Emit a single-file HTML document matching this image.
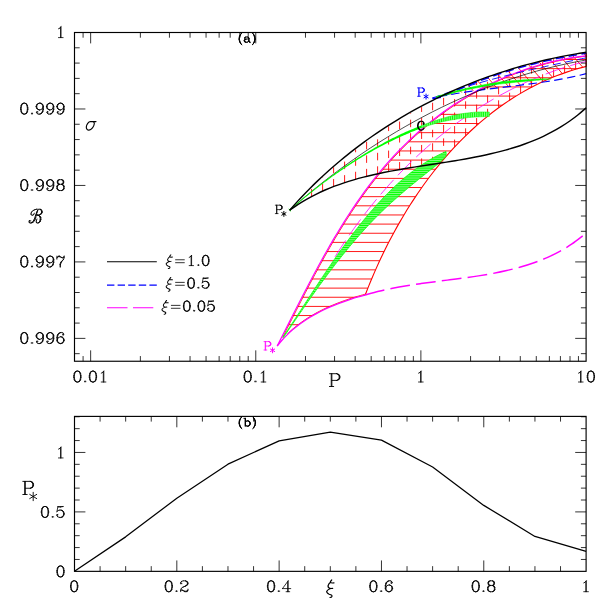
<!DOCTYPE html>
<html><head><meta charset="utf-8"><title>chart</title><style>html,body{margin:0;padding:0;background:#fff}svg{display:block}</style></head><body><svg width="599" height="599" viewBox="0 0 599 599">
<rect width="599" height="599" fill="#fff"/>
<path d="M288.49 324.7H298.96M293.11 315.56H312.89M297.75 306.41H331.39M302.42 297.26H357.17M307.15 288.12H367.89M311.94 278.98H371.63M316.83 269.83H375.57M321.81 260.69H379.72M326.92 251.54H384.09M332.17 242.39H388.68M337.59 233.25H393.51M343.19 224.1H398.59M349.02 214.96H403.94M355.09 205.81H409.58M361.44 196.67H415.52M368.11 187.53H421.8M375.15 178.38H428.45M382.62 169.23H435.5M390.57 160.09H443.01M399.09 150.94H451.02M408.27 141.8H459.62M418.19 132.66H468.89M428.95 123.51H478.96M440.72 114.37H490M453.7 105.22H502.25M468.2 96.07H516.09M484.71 86.93H532.15M504.09 77.78H551.66M528.19 68.64H577.81M562.86 59.5H586.2" stroke="#ff0000" stroke-width="0.9" fill="none"/>
<path d="M282.63 337.39C283.38 335.89 285.64 331.42 287.16 328.42C288.67 325.43 290.18 322.43 291.7 319.43C293.22 316.42 294.74 313.41 296.27 310.4C297.8 307.39 299.33 304.38 300.87 301.36C302.42 298.35 303.96 295.34 305.52 292.33C307.08 289.31 308.65 286.3 310.23 283.3C311.8 280.29 313.39 277.29 314.99 274.29C316.6 271.29 318.21 268.3 319.84 265.32C321.46 262.33 323.1 259.35 324.76 256.39C326.42 253.42 328.09 250.46 329.78 247.52C331.47 244.57 333.18 241.63 334.91 238.71C336.64 235.79 338.38 232.88 340.15 229.99C341.91 227.09 343.7 224.22 345.51 221.36C347.32 218.5 349.15 215.65 351.01 212.83C352.86 210 354.74 207.2 356.65 204.41C358.55 201.63 360.48 198.86 362.44 196.12C364.4 193.38 366.39 190.67 368.4 187.97C370.42 185.28 372.46 182.61 374.53 179.97C376.61 177.33 378.71 174.72 380.85 172.14C382.99 169.55 385.15 166.99 387.36 164.47C389.56 161.95 391.8 159.45 394.07 156.99C396.34 154.53 398.65 152.1 400.99 149.7C403.33 147.31 405.71 144.95 408.12 142.62C410.54 140.3 412.98 138.01 415.46 135.76C417.94 133.5 420.46 131.29 423 129.11C425.55 126.93 428.13 124.79 430.74 122.69C433.35 120.59 435.99 118.53 438.66 116.51C441.33 114.49 444.04 112.51 446.77 110.57C449.5 108.63 452.27 106.73 455.06 104.88C457.85 103.03 460.67 101.22 463.52 99.46C466.37 97.69 469.25 95.97 472.15 94.3C475.06 92.62 477.99 90.99 480.95 89.41C483.91 87.83 486.89 86.3 489.91 84.81C492.92 83.33 495.95 81.89 499.02 80.5C502.08 79.11 505.16 77.78 508.27 76.49C511.38 75.2 514.52 73.97 517.68 72.79C520.84 71.6 524.02 70.47 527.22 69.4C530.42 68.32 533.65 67.3 536.9 66.33C540.14 65.36 543.41 64.45 546.7 63.59C549.99 62.74 553.3 61.93 556.63 61.19C559.96 60.45 563.31 59.76 566.67 59.14C570.04 58.51 573.43 57.95 576.83 57.44C580.24 56.93 585.39 56.33 587.1 56.1" stroke="#ff0000" stroke-width="0.8" fill="none"/>
<path d="M287.42 333.94C288.32 333.11 290.99 330.55 292.85 328.95C294.71 327.34 296.62 325.8 298.57 324.32C300.52 322.84 302.51 321.41 304.54 320.04C306.57 318.67 308.64 317.36 310.74 316.09C312.84 314.83 314.98 313.62 317.15 312.46C319.31 311.29 321.51 310.18 323.73 309.11C325.95 308.04 328.2 307.02 330.46 306.04C332.73 305.05 335.02 304.12 337.32 303.22C339.63 302.32 341.95 301.46 344.28 300.63C346.62 299.81 348.96 299.02 351.32 298.26C353.67 297.51 356.03 296.79 358.4 296.09C360.76 295.4 364.32 294.43 365.5 294.1" stroke="#ff0000" stroke-width="0.8" fill="none"/>
<path d="M311.6 196.47V187.75M322.6 191.12V177.21M333.6 186.55V167.34M344.6 182.64V158.09M355.6 179.28V149.41M366.6 176.36V141.25M377.6 173.82V133.57M388.6 171.57V126.34M399.6 169.55V119.54M410.6 167.7V113.13M421.6 165.95V107.1M432.6 164.25V101.43M443.6 159.4V96.11M454.6 147.06V91.11M465.6 135.82V86.43M476.6 125.58V82.05M487.6 116.27V77.97M498.6 107.84V74.17M509.6 100.21V70.65M520.6 93.35V67.39M531.6 87.22V64.41M542.6 81.77V61.67M553.6 76.99V59.2M564.6 72.83V56.97M575.6 69.28V54.98" stroke="#ff0000" stroke-width="0.9" fill="none" stroke-dasharray="7.5 6"/>
<path d="M448.9 92.69L450.3 94.3M458.3 88.55L461.7 92.46M467.9 84.64L473.3 90.85M477.5 80.73L484.9 89.24M487.5 77.28L496.7 87.86M497.5 73.83L508.5 86.48M507.5 70.38L520.3 85.1M517.9 67.39L531.9 83.49M528.3 64.4L543.1 81.42M538.9 61.64L552.5 77.28M549.7 59.11L562.3 73.6M560.7 56.81L572.3 70.15M571.9 54.74L582.7 67.16M583.3 52.9L586.1 56.12" stroke="#ff0000" stroke-width="0.9" fill="none"/>
<path d="M365.2 295C365.8 293.48 367.56 288.91 368.79 285.87C370.02 282.82 371.28 279.78 372.58 276.74C373.87 273.7 375.19 270.67 376.55 267.64C377.91 264.61 379.29 261.58 380.71 258.57C382.13 255.55 383.59 252.54 385.07 249.55C386.55 246.55 388.07 243.56 389.62 240.58C391.17 237.61 392.75 234.64 394.36 231.69C395.97 228.74 397.61 225.8 399.29 222.88C400.97 219.96 402.67 217.06 404.41 214.17C406.15 211.28 407.93 208.41 409.73 205.57C411.54 202.72 413.37 199.89 415.24 197.08C417.11 194.28 419.02 191.49 420.95 188.74C422.88 185.98 424.85 183.24 426.85 180.53C428.85 177.83 430.88 175.14 432.94 172.49C435.01 169.84 437.11 167.21 439.23 164.62C441.36 162.02 443.52 159.46 445.72 156.93C447.91 154.4 450.14 151.9 452.4 149.44C454.66 146.97 456.95 144.54 459.28 142.15C461.6 139.76 463.96 137.4 466.35 135.09C468.74 132.77 471.16 130.5 473.62 128.26C476.08 126.02 478.56 123.83 481.09 121.68C483.61 119.52 486.16 117.41 488.75 115.35C491.34 113.29 493.96 111.27 496.61 109.3C499.27 107.33 501.95 105.4 504.67 103.53C507.39 101.65 510.15 99.82 512.93 98.05C515.72 96.28 518.54 94.55 521.39 92.88C524.24 91.22 527.13 89.6 530.05 88.04C532.97 86.48 535.92 84.97 538.91 83.53C541.89 82.08 544.91 80.69 547.96 79.36C551.02 78.03 554.1 76.76 557.22 75.55C560.34 74.34 563.49 73.2 566.68 72.11C569.87 71.03 573.09 70.01 576.34 69.06C579.59 68.11 584.56 66.84 586.2 66.4M586.2 66.4V53" stroke="#ff0000" stroke-width="1.1" fill="none"/>
<path d="M335 256.8C335.91 255.37 338.62 251.07 340.47 248.23C342.32 245.39 344.2 242.56 346.1 239.75C348.01 236.94 349.94 234.15 351.91 231.38C353.87 228.6 355.86 225.84 357.88 223.1C359.9 220.37 361.94 217.64 364.02 214.95C366.09 212.25 368.19 209.56 370.32 206.91C372.45 204.25 374.6 201.61 376.78 198.99C378.97 196.38 381.17 193.78 383.41 191.21C385.64 188.64 387.91 186.09 390.19 183.57C392.48 181.05 394.79 178.55 397.13 176.07C399.47 173.6 401.84 171.15 404.23 168.73C406.62 166.31 409.04 163.91 411.48 161.54C413.92 159.18 416.39 156.84 418.88 154.52C421.38 152.21 423.89 149.93 426.44 147.68C428.98 145.42 431.55 143.2 434.14 141.01C436.73 138.81 439.35 136.65 441.99 134.52C444.63 132.39 447.29 130.29 449.98 128.23C452.67 126.17 455.38 124.13 458.12 122.14C460.86 120.14 463.62 118.17 466.4 116.25C469.18 114.32 471.99 112.42 474.82 110.57C477.65 108.71 480.5 106.89 483.38 105.11C486.26 103.32 489.15 101.58 492.08 99.87C495 98.16 497.94 96.49 500.91 94.87C503.87 93.24 506.86 91.65 509.87 90.1C512.88 88.55 515.92 87.04 518.97 85.57C522.02 84.11 525.1 82.68 528.2 81.3C531.29 79.92 534.41 78.58 537.55 77.29C540.69 75.99 543.85 74.74 547.04 73.54C550.22 72.33 553.42 71.17 556.64 70.05C559.87 68.94 563.11 67.87 566.37 66.85C569.64 65.83 572.92 64.86 576.23 63.93C579.53 63.01 584.54 61.74 586.2 61.3" stroke="#ff00ff" stroke-width="0.8" fill="none" stroke-dasharray="19.5 6.3"/>
<path d="M277.2 346C277.96 344.52 280.22 340.07 281.73 337.09C283.24 334.11 284.74 331.12 286.26 328.12C287.77 325.13 289.28 322.13 290.8 319.13C292.32 316.12 293.84 313.11 295.37 310.1C296.9 307.09 298.43 304.08 299.97 301.06C301.52 298.05 303.06 295.04 304.62 292.03C306.18 289.01 307.75 286 309.33 283C310.9 279.99 312.49 276.99 314.09 273.99C315.7 270.99 317.31 268 318.94 265.02C320.56 262.03 322.2 259.05 323.86 256.09C325.52 253.12 327.19 250.16 328.88 247.22C330.57 244.27 332.28 241.33 334.01 238.41C335.74 235.49 337.48 232.58 339.25 229.69C341.01 226.79 342.8 223.92 344.61 221.06C346.42 218.2 348.25 215.35 350.11 212.53C351.96 209.7 353.84 206.9 355.75 204.11C357.65 201.33 359.58 198.56 361.54 195.82C363.5 193.08 365.49 190.37 367.5 187.67C369.52 184.98 371.56 182.31 373.63 179.67C375.71 177.03 377.81 174.42 379.95 171.84C382.09 169.25 384.25 166.69 386.46 164.17C388.66 161.65 390.9 159.15 393.17 156.69C395.44 154.23 397.75 151.8 400.09 149.4C402.43 147.01 404.81 144.65 407.22 142.32C409.64 140 412.08 137.71 414.56 135.46C417.04 133.2 419.56 130.99 422.1 128.81C424.65 126.63 427.23 124.49 429.84 122.39C432.45 120.29 435.09 118.23 437.76 116.21C440.43 114.19 443.14 112.21 445.87 110.27C448.6 108.33 451.37 106.43 454.16 104.58C456.95 102.73 459.77 100.92 462.62 99.16C465.47 97.39 468.35 95.67 471.25 94C474.16 92.32 477.09 90.69 480.05 89.11C483.01 87.53 485.99 86 489.01 84.51C492.02 83.03 495.05 81.59 498.12 80.2C501.18 78.81 504.26 77.48 507.37 76.19C510.48 74.9 513.62 73.67 516.78 72.49C519.94 71.3 523.12 70.17 526.32 69.1C529.52 68.02 532.75 67 536 66.03C539.24 65.06 542.51 64.15 545.8 63.29C549.09 62.44 552.4 61.63 555.73 60.89C559.06 60.15 562.41 59.46 565.77 58.84C569.14 58.21 572.53 57.65 575.93 57.14C579.34 56.63 584.49 56.03 586.2 55.8" stroke="#ff00ff" stroke-width="1.2" fill="none"/>
<path d="M277.2 346C278 345.04 280.34 342.08 281.99 340.22C283.65 338.36 285.36 336.57 287.12 334.84C288.88 333.11 290.69 331.45 292.55 329.85C294.41 328.24 296.32 326.7 298.27 325.22C300.22 323.74 302.21 322.31 304.24 320.94C306.27 319.57 308.34 318.26 310.44 316.99C312.54 315.73 314.68 314.52 316.85 313.36C319.01 312.19 321.21 311.08 323.43 310.01C325.65 308.94 327.9 307.92 330.16 306.94C332.43 305.95 334.72 305.02 337.02 304.12C339.33 303.22 341.65 302.36 343.98 301.53C346.32 300.71 348.66 299.92 351.02 299.16C353.37 298.41 355.73 297.69 358.1 296.99C360.46 296.3 364.02 295.33 365.2 295" stroke="#ff00ff" stroke-width="1.3" fill="none"/>
<path d="M365.2 295C367.46 294.38 374.19 292.42 378.76 291.3C383.33 290.17 387.95 289.18 392.61 288.26C397.26 287.33 401.97 286.51 406.69 285.73C411.41 284.95 416.18 284.26 420.95 283.58C425.72 282.9 430.52 282.28 435.32 281.66C440.11 281.03 444.93 280.45 449.74 279.83C454.54 279.21 459.36 278.61 464.15 277.95C468.94 277.29 473.74 276.62 478.5 275.87C483.26 275.13 488.01 274.34 492.71 273.46C497.42 272.58 502.11 271.64 506.74 270.57C511.38 269.5 515.98 268.36 520.52 267.06C525.07 265.76 529.57 264.36 534 262.78C538.43 261.21 542.81 259.5 547.1 257.6C551.4 255.7 555.63 253.65 559.78 251.37C563.92 249.1 567.99 246.65 571.96 243.95C575.93 241.26 581.66 236.66 583.6 235.2" stroke="#ff00ff" stroke-width="1.45" fill="none" stroke-dasharray="19.8 6.2"/>
<path d="M432.5 98C434.16 97.41 439.15 95.6 442.48 94.44C445.82 93.28 449.17 92.15 452.52 91.05C455.88 89.95 459.25 88.88 462.62 87.83C465.99 86.79 469.37 85.77 472.76 84.77C476.15 83.77 479.55 82.8 482.95 81.85C486.35 80.9 489.76 79.97 493.18 79.06C496.59 78.15 500.02 77.26 503.44 76.38C506.87 75.51 510.3 74.65 513.73 73.81C517.17 72.97 520.61 72.15 524.05 71.34C527.49 70.53 530.94 69.73 534.39 68.95C537.84 68.16 541.29 67.39 544.74 66.63C548.19 65.86 551.65 65.11 555.1 64.36C558.56 63.62 562.01 62.88 565.47 62.14C568.92 61.41 572.38 60.69 575.84 59.96C579.29 59.24 584.47 58.16 586.2 57.8" stroke="#0000ff" stroke-width="0.9" fill="none" stroke-dasharray="8 4.5"/>
<path d="M432.5 98C434.19 97.65 439.27 96.58 442.67 95.93C446.06 95.28 449.47 94.67 452.87 94.1C456.28 93.52 459.7 92.98 463.11 92.46C466.53 91.95 469.96 91.46 473.38 90.99C476.81 90.52 480.24 90.08 483.67 89.64C487.1 89.2 490.53 88.78 493.97 88.36C497.4 87.94 500.84 87.54 504.28 87.13C507.71 86.71 511.15 86.31 514.58 85.88C518.02 85.46 521.45 85.04 524.89 84.6C528.32 84.16 531.75 83.71 535.18 83.23C538.6 82.75 542.03 82.26 545.45 81.74C548.86 81.21 552.28 80.66 555.69 80.08C559.1 79.49 562.5 78.87 565.9 78.21C569.3 77.55 572.69 76.85 576.07 76.1C579.46 75.35 584.51 74.1 586.2 73.7" stroke="#0000ff" stroke-width="1.2" fill="none" stroke-dasharray="8.5 4.5" stroke-dashoffset="-6"/>
<path d="M432.5 98.4C434.05 98.16 438.73 97.9 441.8 96.96C444.88 96.01 447.88 94.11 450.95 92.74C454.01 91.36 457.08 90.02 460.17 88.7C463.26 87.39 466.37 86.1 469.48 84.85C472.6 83.6 475.73 82.38 478.87 81.18C482.01 79.99 485.17 78.83 488.33 77.71C491.5 76.58 494.68 75.48 497.87 74.41C501.05 73.35 504.26 72.31 507.47 71.31C510.68 70.3 513.9 69.33 517.13 68.39C520.36 67.45 523.6 66.54 526.85 65.66C530.1 64.79 533.36 63.94 536.63 63.13C539.89 62.31 543.17 61.53 546.45 60.78C549.74 60.03 553.03 59.31 556.33 58.62C559.63 57.93 562.94 57.28 566.25 56.65C569.56 56.03 572.88 55.44 576.21 54.88C579.53 54.32 584.53 53.56 586.2 53.3" stroke="#0000ff" stroke-width="1.5" fill="none" stroke-dasharray="8.5 4.5"/>
<path d="M289.6 210.2C290.87 209.08 294.66 205.72 297.22 203.51C299.77 201.29 302.35 199.09 304.94 196.91C307.53 194.73 310.14 192.57 312.76 190.42C315.39 188.27 318.03 186.14 320.69 184.03C323.35 181.92 326.02 179.83 328.71 177.75C331.4 175.68 334.11 173.62 336.84 171.58C339.56 169.54 342.3 167.52 345.05 165.53C347.81 163.53 350.58 161.55 353.37 159.59C356.15 157.63 358.95 155.69 361.77 153.77C364.59 151.86 367.42 149.96 370.26 148.09C373.11 146.21 375.97 144.36 378.85 142.53C381.72 140.69 384.61 138.88 387.52 137.1C390.42 135.31 393.34 133.55 396.27 131.81C399.2 130.07 402.15 128.35 405.1 126.66C408.06 124.96 411.04 123.29 414.02 121.65C417.01 120 420 118.38 423.02 116.78C426.03 115.19 429.05 113.62 432.09 112.07C435.13 110.53 438.17 109.01 441.24 107.51C444.3 106.02 447.37 104.55 450.46 103.11C453.54 101.67 456.64 100.26 459.75 98.87C462.86 97.49 465.98 96.13 469.11 94.8C472.24 93.47 475.39 92.17 478.54 90.89C481.69 89.62 484.86 88.37 488.04 87.15C491.21 85.94 494.4 84.75 497.59 83.59C500.79 82.44 504 81.31 507.22 80.21C510.43 79.11 513.66 78.05 516.9 77.01C520.13 75.97 523.38 74.97 526.64 74C529.89 73.02 533.16 72.08 536.43 71.17C539.71 70.26 542.99 69.38 546.29 68.54C549.58 67.69 552.88 66.88 556.19 66.1C559.5 65.32 562.82 64.57 566.14 63.86C569.47 63.15 572.81 62.47 576.15 61.83C579.49 61.18 584.52 60.3 586.2 60" stroke="#000" stroke-width="0.7" fill="none"/>
<defs><pattern id="gp" width="4" height="1.83" patternUnits="userSpaceOnUse"><rect width="4" height="1.83" fill="#b4ffb4"/><rect width="4" height="1.15" fill="#0f0"/></pattern><pattern id="gv" width="1.83" height="4" patternUnits="userSpaceOnUse"><rect width="1.83" height="4" fill="#b4ffb4"/><rect width="1.15" height="4" fill="#0f0"/></pattern></defs>
<path d="M282.8 337.3L283.95 335.58L285.6 333.12L287.25 330.65L288.36 328.98L289.46 327.31L290.57 325.63L291.67 323.96L292.78 322.28L293.88 320.6L294.98 318.91L296.09 317.23L297.19 315.54L298.29 313.85L299.39 312.16L300.49 310.46L301.59 308.77L302.7 307.08L303.8 305.38L304.9 303.68L306 301.98L307.11 300.29L308.21 298.59L309.32 296.89L310.43 295.19L311.53 293.49L312.64 291.79L313.75 290.09L314.86 288.39L315.98 286.69L317.09 284.99L318.21 283.3L319.33 281.6L320.45 279.9L321.58 278.21L322.7 276.51L323.83 274.82L324.96 273.13L326.1 271.44L327.23 269.76L328.37 268.07L329.52 266.39L330.66 264.7L331.81 263.03L332.96 261.35L334.12 259.67L335.28 258L336.45 256.33L337.61 254.67L338.78 253.01L339.96 251.35L341.14 249.69L342.33 248.04L343.52 246.39L344.71 244.74L345.91 243.1L347.11 241.46L348.32 239.83L349.53 238.2L350.75 236.58L351.98 234.96L353.21 233.34L354.44 231.73L355.68 230.12L356.93 228.52L358.18 226.93L359.44 225.33L360.71 223.75L361.98 222.17L363.25 220.6L364.54 219.03L365.83 217.47L367.13 215.91L368.43 214.36L369.74 212.82L371.06 211.28L372.39 209.75L373.72 208.23L375.06 206.71L376.41 205.2L377.77 203.7L379.13 202.21L380.51 200.72L381.89 199.25L383.28 197.78L384.68 196.32L386.08 194.88L387.5 193.44L388.93 192.01L390.36 190.6L391.81 189.19L393.26 187.8L394.73 186.42L396.2 185.05L397.69 183.7L399.18 182.36L400.69 181.03L402.21 179.71L403.74 178.41L405.27 177.12L406.83 175.85L408.39 174.59L409.96 173.35L411.55 172.12L413.14 170.91L414.75 169.71L416.37 168.54L418.01 167.38L419.66 166.23L421.32 165.11L422.99 164L424.68 162.91L426.38 161.84L428.09 160.79L429.81 159.76L431.56 158.74L433.31 157.75L435.08 156.78L436.86 155.83L438.66 154.9L440.65 153.92L442.77 152.91L444.67 152.02L446 151.4L446 152L446.28 153.82L445.8 156.4L444.71 157.81L443.17 159.37L441.44 160.95L439.79 162.43L437.75 164.2L435.7 165.86L433.64 167.5L431.57 169.14L429.5 170.76L427.42 172.38L425.35 174.03L423.27 175.68L421.18 177.35L419.62 178.6L418.06 179.86L416.5 181.13L414.94 182.4L413.38 183.68L411.82 184.97L410.26 186.26L408.7 187.56L407.15 188.86L405.6 190.17L404.05 191.48L402.51 192.81L400.97 194.14L399.43 195.47L397.9 196.82L396.37 198.16L394.84 199.52L393.32 200.88L391.81 202.25L390.3 203.63L388.8 205.02L387.31 206.41L385.82 207.81L384.34 209.21L382.86 210.63L381.39 212.05L379.94 213.47L378.48 214.91L377.04 216.35L375.61 217.8L374.18 219.26L372.76 220.72L371.34 222.2L369.93 223.67L368.54 225.16L367.14 226.65L365.76 228.15L364.38 229.65L363.01 231.16L361.64 232.67L360.28 234.2L358.93 235.72L357.58 237.26L356.24 238.79L354.91 240.34L353.58 241.89L352.25 243.44L350.94 245L349.63 246.57L348.32 248.14L347.02 249.71L345.73 251.29L344.44 252.88L343.16 254.47L341.88 256.06L340.6 257.66L339.34 259.26L338.07 260.87L336.81 262.48L335.56 264.09L334.31 265.71L333.07 267.33L331.82 268.95L330.59 270.58L329.36 272.21L328.13 273.85L326.9 275.49L325.69 277.13L324.47 278.77L323.26 280.42L322.05 282.07L320.84 283.72L319.64 285.37L318.44 287.03L317.25 288.69L316.06 290.35L314.87 292.01L313.68 293.68L312.5 295.35L311.32 297.02L310.14 298.69L308.97 300.36L307.8 302.03L306.63 303.71L305.46 305.38L304.29 307.06L303.13 308.74L301.97 310.41L300.81 312.09L299.65 313.77L298.5 315.45L297.35 317.14L296.19 318.82L295.04 320.5L293.89 322.18L292.75 323.86L291.6 325.54L290.45 327.22L289.31 328.9L288.17 330.58L286.92 332.42L285.6 334.36L284.42 336.09L283.6 337.3Z" fill="url(#gp)" stroke="#00ff00" stroke-width="0.7" stroke-linejoin="round"/>
<path d="M288.12 208.5L290.19 209.21L291.35 208.2L292.7 207.01L294.1 205.78L295.41 204.64L296.63 203.59L297.85 202.54L299.08 201.49L300.31 200.45L301.54 199.41L302.77 198.37L304.01 197.33L305.25 196.3L306.5 195.27L307.74 194.25L308.99 193.22L310.25 192.2L311.51 191.19L312.77 190.18L314.03 189.17L315.3 188.16L316.57 187.16L317.84 186.16L319.11 185.16L320.39 184.17L321.68 183.18L322.96 182.2L324.25 181.22L325.54 180.24L326.84 179.27L328.14 178.3L329.44 177.34L330.75 176.38L332.06 175.42L333.37 174.47L334.68 173.52L336 172.58L337.32 171.64L338.65 170.71L339.98 169.78L341.31 168.85L342.64 167.93L343.98 167.01L345.32 166.1L346.67 165.2L348.01 164.29L349.37 163.4L350.72 162.5L352.08 161.62L353.44 160.73L354.8 159.86L356.16 158.98L357.53 158.11L358.9 157.24L360.28 156.38L361.66 155.53L363.04 154.68L364.42 153.84L365.81 153L367.2 152.16L368.59 151.34L369.99 150.52L371.39 149.7L372.8 148.89L374.2 148.08L375.61 147.28L377.03 146.49L378.44 145.7L379.86 144.92L381.29 144.15L382.71 143.38L384.14 142.61L385.57 141.85L387.01 141.09L388.44 140.34L389.88 139.59L391.32 138.85L392.77 138.12L394.22 137.39L395.67 136.67L397.13 135.96L398.59 135.25L400.05 134.55L401.51 133.85L402.98 133.17L404.46 132.49L405.94 131.83L407.43 131.18L408.92 130.54L410.41 129.91L411.91 129.28L413.41 128.66L414.91 128.06L416.42 127.46L417.93 126.86L419.44 126.28L420.96 125.7L421.8 127.96L420.3 128.53L418.8 129.1L417.3 129.69L415.81 130.28L414.32 130.89L412.83 131.5L411.34 132.12L409.86 132.75L408.38 133.38L406.9 134.03L405.43 134.68L403.95 135.32L402.47 135.96L401 136.62L399.53 137.28L398.07 137.94L396.6 138.62L395.14 139.3L393.68 139.98L392.23 140.68L390.78 141.38L389.33 142.09L387.88 142.8L386.44 143.52L385 144.25L383.57 144.99L382.14 145.73L380.71 146.49L379.29 147.25L377.86 148.01L376.45 148.78L375.03 149.56L373.62 150.34L372.21 151.13L370.81 151.93L369.4 152.73L368.01 153.53L366.61 154.35L365.22 155.16L363.83 155.99L362.44 156.82L361.06 157.65L359.68 158.49L358.3 159.33L356.92 160.18L355.55 161.04L354.18 161.9L352.82 162.77L351.46 163.64L350.1 164.52L348.75 165.41L347.4 166.29L346.05 167.19L344.71 168.09L343.36 168.99L342.03 169.9L340.69 170.81L339.36 171.72L338.03 172.65L336.7 173.57L335.38 174.5L334.06 175.44L332.74 176.37L331.43 177.32L330.12 178.27L328.81 179.22L327.51 180.17L326.21 181.13L324.91 182.09L323.61 183.06L322.32 184.03L321.03 185.01L319.75 185.98L318.47 186.97L317.19 187.95L315.91 188.94L314.64 189.93L313.37 190.93L312.1 191.93L310.83 192.93L309.57 193.94L308.32 194.95L307.06 195.96L305.81 196.98L304.56 198L303.32 199.02L302.08 200.05L300.84 201.08L299.6 202.11L298.37 203.14L297.14 204.18L295.91 205.22L294.6 206.35L293.18 207.56L291.82 208.74L290.66 209.75L291.08 211.9Z" fill="#00ff00" stroke="none"/>
<path d="M420.96 125.7L422.48 125.13L424 124.57L425.52 124.02L427.05 123.48L428.58 122.95L430.11 122.42L431.64 121.88L433.17 121.35L434.71 120.83L436.25 120.32L437.79 119.82L439.34 119.33L440.89 118.85L442.44 118.38L443.99 117.92L445.56 117.47L447.12 117.04L448.69 116.61L450.26 116.21L451.84 115.81L453.42 115.43L455.01 115.07L456.6 114.72L458.2 114.38L459.8 114.06L461.41 113.8L463.03 113.55L464.65 113.32L466.27 113.1L467.89 112.9L469.52 112.72L471.16 112.55L472.79 112.4L474.43 112.26L476.08 112.14L477.72 112.03L479.38 111.95L481.04 111.91L482.84 111.91L484.77 111.94L486.62 111.98L488.19 112.02L489.31 112.05L489.3 116.55L488.18 116.57L486.6 116.6L484.78 116.64L482.9 116.69L481.17 116.76L479.57 116.83L477.97 116.9L476.37 116.97L474.77 117.07L473.18 117.17L471.59 117.3L470 117.44L468.41 117.6L466.83 117.77L465.25 117.95L463.67 118.16L462.1 118.37L460.52 118.6L458.95 118.81L457.37 119.02L455.8 119.25L454.23 119.49L452.66 119.75L451.09 120.02L449.52 120.31L447.96 120.6L446.39 120.92L444.83 121.24L443.27 121.58L441.72 121.94L440.16 122.3L438.62 122.69L437.07 123.1L435.52 123.51L433.98 123.94L432.44 124.38L430.9 124.83L429.38 125.31L427.86 125.82L426.34 126.34L424.83 126.87L423.31 127.41L421.8 127.96Z" fill="url(#gv)" stroke="#00ff00" stroke-width="0.5"/>
<path d="M436 96.8L436.95 96.44L438.53 95.87L441.7 94.9L443.1 94.49L444.7 94.03L446.49 93.51L448.43 92.94L450.49 92.36L452.65 91.75L454.87 91.14L457.14 90.54L459.43 89.95L461.7 89.4L463.64 88.95L465.69 88.49L467.81 88.02L470 87.55L472.22 87.08L474.46 86.62L476.68 86.17L478.87 85.73L481 85.31L483.04 84.91L484.99 84.54L486.8 84.2L489.29 83.74L491.57 83.34L493.7 82.99L495.7 82.67L497.64 82.38L499.55 82.11L501.49 81.85L503.5 81.6L505.53 81.36L507.51 81.14L509.47 80.94L511.43 80.76L513.42 80.59L515.46 80.43L517.58 80.27L519.8 80.1L521.7 79.96L523.74 79.82L525.87 79.68L528.06 79.54L530.25 79.4L532.42 79.27L534.52 79.16L536.51 79.05L538.35 78.97L540 78.9L542.92 78.84L545.48 78.85L547.65 78.9L549.4 78.97L550.7 79L550.7 79L549.4 79.12L547.65 79.28L545.48 79.49L542.92 79.73L540 80L538.35 80.15L536.51 80.33L534.52 80.51L532.42 80.7L530.25 80.91L528.06 81.11L525.87 81.32L523.74 81.52L521.7 81.71L519.8 81.9L517.58 82.12L515.46 82.32L513.42 82.52L511.43 82.72L509.47 82.92L507.51 83.13L505.53 83.36L503.5 83.6L501.49 83.85L499.55 84.09L497.64 84.34L495.7 84.6L493.7 84.89L491.57 85.21L489.29 85.58L486.8 86L484.99 86.32L483.04 86.67L481 87.04L478.87 87.43L476.68 87.84L474.46 88.27L472.22 88.7L470 89.14L467.81 89.59L465.69 90.03L463.64 90.47L461.7 90.9L459.43 91.43L457.14 92L454.87 92.6L452.65 93.2L450.49 93.79L448.43 94.37L446.49 94.91L444.7 95.41L443.1 95.84L441.7 96.2L437.6 97.03L436 97.2Z" fill="#00ff00" stroke="#00ff00" stroke-width="0.5"/>
<path d="M289.6 210.2C290.73 208.94 294.09 205.11 296.37 202.61C298.66 200.11 300.97 197.64 303.3 195.2C305.64 192.75 308 190.34 310.39 187.95C312.78 185.57 315.19 183.21 317.63 180.88C320.07 178.55 322.53 176.25 325.02 173.98C327.51 171.71 330.02 169.47 332.55 167.25C335.08 165.04 337.64 162.86 340.22 160.7C342.8 158.55 345.4 156.42 348.03 154.33C350.65 152.23 353.3 150.16 355.97 148.13C358.64 146.09 361.33 144.08 364.04 142.1C366.75 140.13 369.48 138.18 372.23 136.26C374.98 134.34 377.76 132.45 380.55 130.59C383.34 128.73 386.15 126.9 388.98 125.1C391.81 123.3 394.66 121.53 397.52 119.79C400.39 118.05 403.27 116.34 406.17 114.66C409.08 112.98 412 111.33 414.93 109.71C417.87 108.09 420.82 106.5 423.79 104.94C426.76 103.39 429.75 101.86 432.75 100.36C435.75 98.86 438.77 97.39 441.8 95.96C444.84 94.52 447.88 93.11 450.95 91.74C454.01 90.36 457.08 89.02 460.17 87.7C463.26 86.39 466.37 85.1 469.48 83.85C472.6 82.6 475.73 81.38 478.87 80.18C482.01 78.99 485.17 77.83 488.33 76.71C491.5 75.58 494.68 74.48 497.87 73.41C501.05 72.35 504.26 71.31 507.47 70.31C510.68 69.3 513.9 68.33 517.13 67.39C520.36 66.45 523.6 65.54 526.85 64.66C530.1 63.79 533.36 62.94 536.63 62.13C539.89 61.31 543.17 60.53 546.45 59.78C549.74 59.03 553.03 58.31 556.33 57.62C559.63 56.93 562.94 56.28 566.25 55.65C569.56 55.03 572.88 54.44 576.21 53.88C579.53 53.32 584.53 52.56 586.2 52.3" stroke="#000" stroke-width="1.4" fill="none"/>
<path d="M289.6 210.2C291.02 209.22 295.26 206.18 298.14 204.32C301.03 202.45 303.96 200.69 306.92 199.02C309.89 197.34 312.89 195.76 315.92 194.26C318.96 192.76 322.03 191.35 325.12 190C328.22 188.66 331.35 187.4 334.51 186.2C337.67 185.01 340.85 183.89 344.06 182.82C347.27 181.75 350.51 180.76 353.76 179.81C357.02 178.86 360.3 177.97 363.6 177.12C366.89 176.27 370.21 175.48 373.54 174.72C376.88 173.96 380.23 173.25 383.59 172.56C386.95 171.88 390.33 171.23 393.71 170.61C397.1 169.98 400.5 169.39 403.9 168.81C407.3 168.23 410.72 167.68 414.13 167.13C417.55 166.58 420.97 166.05 424.39 165.52C427.82 164.98 431.24 164.47 434.66 163.94C438.09 163.41 441.51 162.88 444.93 162.34C448.35 161.8 451.76 161.26 455.17 160.69C458.57 160.13 461.98 159.55 465.36 158.94C468.75 158.34 472.14 157.71 475.5 157.05C478.87 156.39 482.23 155.71 485.56 154.98C488.9 154.25 492.23 153.49 495.53 152.68C498.83 151.87 502.12 151.02 505.39 150.11C508.65 149.2 511.89 148.25 515.11 147.23C518.33 146.21 521.53 145.13 524.69 143.99C527.86 142.84 531 141.64 534.11 140.35C537.22 139.07 540.3 137.72 543.35 136.28C546.39 134.84 549.41 133.33 552.38 131.72C555.36 130.11 558.3 128.42 561.2 126.64C564.11 124.85 566.97 122.97 569.79 120.98C572.61 119 575.4 116.92 578.13 114.72C580.87 112.52 584.86 108.95 586.2 107.8" stroke="#000" stroke-width="1.4" fill="none"/>
<path d="M83.09 361.25v-5.2M83.09 32.5v5.2M90.65 361.25v-10.9M90.65 32.5v10.9M140.36 361.25v-5.2M140.36 32.5v5.2M169.43 361.25v-5.2M169.43 32.5v5.2M190.06 361.25v-5.2M190.06 32.5v5.2M206.06 361.25v-5.2M206.06 32.5v5.2M219.14 361.25v-5.2M219.14 32.5v5.2M230.19 361.25v-5.2M230.19 32.5v5.2M239.77 361.25v-5.2M239.77 32.5v5.2M248.21 361.25v-5.2M248.21 32.5v5.2M255.77 361.25v-10.9M255.77 32.5v10.9M305.47 361.25v-5.2M305.47 32.5v5.2M334.55 361.25v-5.2M334.55 32.5v5.2M355.18 361.25v-5.2M355.18 32.5v5.2M371.18 361.25v-5.2M371.18 32.5v5.2M384.25 361.25v-5.2M384.25 32.5v5.2M395.31 361.25v-5.2M395.31 32.5v5.2M404.88 361.25v-5.2M404.88 32.5v5.2M413.33 361.25v-5.2M413.33 32.5v5.2M420.88 361.25v-10.9M420.88 32.5v10.9M470.59 361.25v-5.2M470.59 32.5v5.2M499.66 361.25v-5.2M499.66 32.5v5.2M520.29 361.25v-5.2M520.29 32.5v5.2M536.29 361.25v-5.2M536.29 32.5v5.2M549.37 361.25v-5.2M549.37 32.5v5.2M560.42 361.25v-5.2M560.42 32.5v5.2M570 361.25v-5.2M570 32.5v5.2M578.44 361.25v-5.2M578.44 32.5v5.2M74.5 47.79h5.2M586.1 47.79h-5.2M74.5 63.09h5.2M586.1 63.09h-5.2M74.5 78.38h5.2M586.1 78.38h-5.2M74.5 93.68h5.2M586.1 93.68h-5.2M74.5 108.97h10.9M586.1 108.97h-10.9M74.5 124.26h5.2M586.1 124.26h-5.2M74.5 139.56h5.2M586.1 139.56h-5.2M74.5 154.85h5.2M586.1 154.85h-5.2M74.5 170.15h5.2M586.1 170.15h-5.2M74.5 185.44h10.9M586.1 185.44h-10.9M74.5 200.73h5.2M586.1 200.73h-5.2M74.5 216.03h5.2M586.1 216.03h-5.2M74.5 231.32h5.2M586.1 231.32h-5.2M74.5 246.62h5.2M586.1 246.62h-5.2M74.5 261.91h10.9M586.1 261.91h-10.9M74.5 277.2h5.2M586.1 277.2h-5.2M74.5 292.5h5.2M586.1 292.5h-5.2M74.5 307.79h5.2M586.1 307.79h-5.2M74.5 323.09h5.2M586.1 323.09h-5.2M74.5 338.38h10.9M586.1 338.38h-10.9M74.5 353.67h5.2M586.1 353.67h-5.2M100.08 571.35v-5.2M100.08 416.4v5.2M125.66 571.35v-5.2M125.66 416.4v5.2M151.24 571.35v-5.2M151.24 416.4v5.2M176.82 571.35v-10.9M176.82 416.4v10.9M202.4 571.35v-5.2M202.4 416.4v5.2M227.98 571.35v-5.2M227.98 416.4v5.2M253.56 571.35v-5.2M253.56 416.4v5.2M279.14 571.35v-10.9M279.14 416.4v10.9M304.72 571.35v-5.2M304.72 416.4v5.2M330.3 571.35v-5.2M330.3 416.4v5.2M355.88 571.35v-5.2M355.88 416.4v5.2M381.46 571.35v-10.9M381.46 416.4v10.9M407.04 571.35v-5.2M407.04 416.4v5.2M432.62 571.35v-5.2M432.62 416.4v5.2M458.2 571.35v-5.2M458.2 416.4v5.2M483.78 571.35v-10.9M483.78 416.4v10.9M509.36 571.35v-5.2M509.36 416.4v5.2M534.94 571.35v-5.2M534.94 416.4v5.2M560.52 571.35v-5.2M560.52 416.4v5.2M74.5 559.46h5.2M586.1 559.46h-5.2M74.5 547.57h5.2M586.1 547.57h-5.2M74.5 535.68h5.2M586.1 535.68h-5.2M74.5 523.79h5.2M586.1 523.79h-5.2M74.5 511.9h10.9M586.1 511.9h-10.9M74.5 500.01h5.2M586.1 500.01h-5.2M74.5 488.12h5.2M586.1 488.12h-5.2M74.5 476.23h5.2M586.1 476.23h-5.2M74.5 464.34h5.2M586.1 464.34h-5.2M74.5 452.45h10.9M586.1 452.45h-10.9M74.5 440.56h5.2M586.1 440.56h-5.2M74.5 428.67h5.2M586.1 428.67h-5.2M74.5 416.78h5.2M586.1 416.78h-5.2" stroke="#000" stroke-width="0.8" fill="none"/>
<rect x="74.5" y="32.5" width="511.6" height="328.75" fill="none" stroke="#000" stroke-width="1.15"/>
<rect x="74.5" y="416.4" width="511.6" height="154.95" fill="none" stroke="#000" stroke-width="1.15"/>
<path d="M74.5 571.35L125.66 536.87L176.82 498.19L227.98 464.16L279.14 440.85L330.3 432.03L381.46 440.08L432.62 466.96L483.78 505.4L534.94 536.42L586.1 551.43" stroke="#000" stroke-width="1.25" fill="none" stroke-linejoin="round"/>
<path d="M107 261.7H156.8" stroke="#000" stroke-width="1.1"/>
<path d="M107 285.1H156.8" stroke="#0000ff" stroke-width="1.1" stroke-dasharray="7.4 3.2"/>
<path d="M107 307.7H153.3" stroke="#ff00ff" stroke-width="1.1" stroke-dasharray="20.5 5.5"/>
<path d="M61.04 26.72L61.04 37.6M60.52 27.24L60.52 37.6M58.45 37.6L63.11 37.6M61.04 26.72L59.48 28.28M59.48 28.28L58.45 28.79" stroke="#000" stroke-width="0.8" fill="none" stroke-linecap="round" stroke-linejoin="round"/>
<path d="M21.15 105.26L20.63 107.85M21.67 105.26L21.15 107.85M26.85 105.26L27.37 107.85M27.37 105.26L27.89 107.85M20.63 109.41L21.15 112M21.15 109.41L21.67 112M27.37 109.41L26.85 112M27.89 109.41L27.37 112M23.74 103.19L22.19 103.71M24.78 103.19L26.33 103.71M22.19 113.55L23.74 114.07M26.33 113.55L24.78 114.07M22.19 103.71L21.15 105.26M26.33 103.71L27.37 105.26M21.15 112L22.19 113.55M27.37 112L26.33 113.55M20.63 107.85L20.63 109.41M21.15 107.85L21.15 109.41M27.37 107.85L27.37 109.41M27.89 107.85L27.89 109.41M22.19 104.23L21.67 105.26M26.33 104.23L26.85 105.26M21.67 112L22.19 113.03M26.85 112L26.33 113.03M23.74 103.19L24.78 103.19M23.74 114.07L24.78 114.07M23.74 103.19L22.71 103.71M22.71 113.55L23.74 114.07M25.81 103.71L26.33 104.23M26.33 113.03L25.81 113.55M22.71 103.71L22.19 104.23M22.19 113.03L22.71 113.55M24.78 103.19L25.81 103.71M25.81 113.55L24.78 114.07M32.03 113.03L31.51 113.55M32.55 113.55L32.03 114.07M32.03 113.03L32.55 113.55M31.51 113.55L32.03 114.07M42.91 106.3L42.91 109.41M43.43 106.3L43.43 109.41M39.28 103.19L37.73 103.71M40.32 103.19L41.87 103.71M37.73 109.41L39.28 109.93M41.35 113.55L39.8 114.07M42.91 109.41L42.39 111.48M43.43 109.41L42.91 111.48M36.69 104.75L36.17 106.3M37.21 104.75L36.69 106.3M36.17 106.82L36.69 108.37M36.69 106.82L37.21 108.37M41.35 109.41L39.8 109.93M42.39 104.75L42.91 106.3M42.91 104.75L43.43 106.3M38.25 114.07L39.8 114.07M42.91 106.82L42.39 108.37M36.69 112.52L37.21 113.55M41.87 112.52L40.84 113.55M38.25 103.71L37.21 104.75M41.35 103.71L42.39 104.75M37.21 108.37L38.25 109.41M42.39 112.52L41.35 113.55M37.73 103.71L36.69 104.75M41.87 103.71L42.91 104.75M36.69 108.37L37.73 109.41M42.39 108.37L41.35 109.41M42.39 111.48L41.87 112.52M42.91 111.48L42.39 112.52M37.21 113.55L38.25 114.07M39.28 103.19L40.32 103.19M37.21 111.48L36.69 112M37.73 112L37.21 112.52M39.28 103.19L38.25 103.71M38.25 109.41L39.28 109.93M37.21 111.48L37.73 112M40.32 103.19L41.35 103.71M40.84 113.55L39.8 114.07M36.17 106.3L36.17 106.82M36.69 106.3L36.69 106.82M39.28 109.93L39.8 109.93M36.69 112L36.69 112.52M53.27 106.3L53.27 109.41M53.79 106.3L53.79 109.41M49.64 103.19L48.09 103.71M50.68 103.19L52.23 103.71M48.09 109.41L49.64 109.93M51.71 113.55L50.16 114.07M53.27 109.41L52.75 111.48M53.79 109.41L53.27 111.48M47.05 104.75L46.53 106.3M47.57 104.75L47.05 106.3M46.53 106.82L47.05 108.37M47.05 106.82L47.57 108.37M51.71 109.41L50.16 109.93M52.75 104.75L53.27 106.3M53.27 104.75L53.79 106.3M48.61 114.07L50.16 114.07M53.27 106.82L52.75 108.37M47.05 112.52L47.57 113.55M52.23 112.52L51.2 113.55M48.61 103.71L47.57 104.75M51.71 103.71L52.75 104.75M47.57 108.37L48.61 109.41M52.75 112.52L51.71 113.55M48.09 103.71L47.05 104.75M52.23 103.71L53.27 104.75M47.05 108.37L48.09 109.41M52.75 108.37L51.71 109.41M52.75 111.48L52.23 112.52M53.27 111.48L52.75 112.52M47.57 113.55L48.61 114.07M49.64 103.19L50.68 103.19M47.57 111.48L47.05 112M48.09 112L47.57 112.52M49.64 103.19L48.61 103.71M48.61 109.41L49.64 109.93M47.57 111.48L48.09 112M50.68 103.19L51.71 103.71M51.2 113.55L50.16 114.07M46.53 106.3L46.53 106.82M47.05 106.3L47.05 106.82M49.64 109.93L50.16 109.93M47.05 112L47.05 112.52M63.63 106.3L63.63 109.41M64.15 106.3L64.15 109.41M60 103.19L58.45 103.71M61.04 103.19L62.59 103.71M58.45 109.41L60 109.93M62.07 113.55L60.52 114.07M63.63 109.41L63.11 111.48M64.15 109.41L63.63 111.48M57.41 104.75L56.89 106.3M57.93 104.75L57.41 106.3M56.89 106.82L57.41 108.37M57.41 106.82L57.93 108.37M62.07 109.41L60.52 109.93M63.11 104.75L63.63 106.3M63.63 104.75L64.15 106.3M58.97 114.07L60.52 114.07M63.63 106.82L63.11 108.37M57.41 112.52L57.93 113.55M62.59 112.52L61.56 113.55M58.97 103.71L57.93 104.75M62.07 103.71L63.11 104.75M57.93 108.37L58.97 109.41M63.11 112.52L62.07 113.55M58.45 103.71L57.41 104.75M62.59 103.71L63.63 104.75M57.41 108.37L58.45 109.41M63.11 108.37L62.07 109.41M63.11 111.48L62.59 112.52M63.63 111.48L63.11 112.52M57.93 113.55L58.97 114.07M60 103.19L61.04 103.19M57.93 111.48L57.41 112M58.45 112L57.93 112.52M60 103.19L58.97 103.71M58.97 109.41L60 109.93M57.93 111.48L58.45 112M61.04 103.19L62.07 103.71M61.56 113.55L60.52 114.07M56.89 106.3L56.89 106.82M57.41 106.3L57.41 106.82M60 109.93L60.52 109.93M57.41 112L57.41 112.52" stroke="#000" stroke-width="0.8" fill="none" stroke-linecap="round" stroke-linejoin="round"/>
<path d="M21.15 181.73L20.63 184.32M21.67 181.73L21.15 184.32M26.85 181.73L27.37 184.32M27.37 181.73L27.89 184.32M20.63 185.88L21.15 188.47M21.15 185.88L21.67 188.47M27.37 185.88L26.85 188.47M27.89 185.88L27.37 188.47M23.74 179.66L22.19 180.18M24.78 179.66L26.33 180.18M22.19 190.02L23.74 190.54M26.33 190.02L24.78 190.54M22.19 180.18L21.15 181.73M26.33 180.18L27.37 181.73M21.15 188.47L22.19 190.02M27.37 188.47L26.33 190.02M20.63 184.32L20.63 185.88M21.15 184.32L21.15 185.88M27.37 184.32L27.37 185.88M27.89 184.32L27.89 185.88M22.19 180.7L21.67 181.73M26.33 180.7L26.85 181.73M21.67 188.47L22.19 189.5M26.85 188.47L26.33 189.5M23.74 179.66L24.78 179.66M23.74 190.54L24.78 190.54M23.74 179.66L22.71 180.18M22.71 190.02L23.74 190.54M25.81 180.18L26.33 180.7M26.33 189.5L25.81 190.02M22.71 180.18L22.19 180.7M22.19 189.5L22.71 190.02M24.78 179.66L25.81 180.18M25.81 190.02L24.78 190.54M32.03 189.5L31.51 190.02M32.55 190.02L32.03 190.54M32.03 189.5L32.55 190.02M31.51 190.02L32.03 190.54M42.91 182.77L42.91 185.88M43.43 182.77L43.43 185.88M39.28 179.66L37.73 180.18M40.32 179.66L41.87 180.18M37.73 185.88L39.28 186.4M41.35 190.02L39.8 190.54M42.91 185.88L42.39 187.95M43.43 185.88L42.91 187.95M36.69 181.22L36.17 182.77M37.21 181.22L36.69 182.77M36.17 183.29L36.69 184.84M36.69 183.29L37.21 184.84M41.35 185.88L39.8 186.4M42.39 181.22L42.91 182.77M42.91 181.22L43.43 182.77M38.25 190.54L39.8 190.54M42.91 183.29L42.39 184.84M36.69 188.99L37.21 190.02M41.87 188.99L40.84 190.02M38.25 180.18L37.21 181.22M41.35 180.18L42.39 181.22M37.21 184.84L38.25 185.88M42.39 188.99L41.35 190.02M37.73 180.18L36.69 181.22M41.87 180.18L42.91 181.22M36.69 184.84L37.73 185.88M42.39 184.84L41.35 185.88M42.39 187.95L41.87 188.99M42.91 187.95L42.39 188.99M37.21 190.02L38.25 190.54M39.28 179.66L40.32 179.66M37.21 187.95L36.69 188.47M37.73 188.47L37.21 188.99M39.28 179.66L38.25 180.18M38.25 185.88L39.28 186.4M37.21 187.95L37.73 188.47M40.32 179.66L41.35 180.18M40.84 190.02L39.8 190.54M36.17 182.77L36.17 183.29M36.69 182.77L36.69 183.29M39.28 186.4L39.8 186.4M36.69 188.47L36.69 188.99M53.27 182.77L53.27 185.88M53.79 182.77L53.79 185.88M49.64 179.66L48.09 180.18M50.68 179.66L52.23 180.18M48.09 185.88L49.64 186.4M51.71 190.02L50.16 190.54M53.27 185.88L52.75 187.95M53.79 185.88L53.27 187.95M47.05 181.22L46.53 182.77M47.57 181.22L47.05 182.77M46.53 183.29L47.05 184.84M47.05 183.29L47.57 184.84M51.71 185.88L50.16 186.4M52.75 181.22L53.27 182.77M53.27 181.22L53.79 182.77M48.61 190.54L50.16 190.54M53.27 183.29L52.75 184.84M47.05 188.99L47.57 190.02M52.23 188.99L51.2 190.02M48.61 180.18L47.57 181.22M51.71 180.18L52.75 181.22M47.57 184.84L48.61 185.88M52.75 188.99L51.71 190.02M48.09 180.18L47.05 181.22M52.23 180.18L53.27 181.22M47.05 184.84L48.09 185.88M52.75 184.84L51.71 185.88M52.75 187.95L52.23 188.99M53.27 187.95L52.75 188.99M47.57 190.02L48.61 190.54M49.64 179.66L50.68 179.66M47.57 187.95L47.05 188.47M48.09 188.47L47.57 188.99M49.64 179.66L48.61 180.18M48.61 185.88L49.64 186.4M47.57 187.95L48.09 188.47M50.68 179.66L51.71 180.18M51.2 190.02L50.16 190.54M46.53 182.77L46.53 183.29M47.05 182.77L47.05 183.29M49.64 186.4L50.16 186.4M47.05 188.47L47.05 188.99M57.93 183.81L59.48 184.32M63.11 183.81L61.56 184.32M59.48 179.66L61.56 179.66M59.48 190.54L61.56 190.54M56.89 186.4L56.89 188.47M57.41 186.4L57.41 188.47M63.63 186.4L63.63 188.47M64.15 186.4L64.15 188.47M61.56 179.66L63.11 180.18M63.11 190.02L61.56 190.54M59.48 179.66L57.93 180.18M57.93 190.02L59.48 190.54M59.48 184.32L61.56 184.32M61.56 184.32L63.11 184.84M59.48 184.32L57.93 184.84M57.41 181.22L57.41 182.77M57.93 181.22L57.93 182.77M63.11 181.22L63.11 182.77M63.63 181.22L63.63 182.77M58.45 180.18L57.93 181.22M62.59 180.18L63.11 181.22M57.93 182.77L58.45 183.81M63.11 182.77L62.59 183.81M57.41 185.36L56.89 186.4M57.93 185.36L57.41 186.4M63.11 185.36L63.63 186.4M63.63 185.36L64.15 186.4M56.89 188.47L57.41 189.5M57.41 188.47L57.93 189.5M63.63 188.47L63.11 189.5M64.15 188.47L63.63 189.5M57.93 180.18L57.41 181.22M63.11 180.18L63.63 181.22M57.41 182.77L57.93 183.81M63.63 182.77L63.11 183.81M59.48 184.32L58.45 184.84M58.45 190.02L59.48 190.54M62.59 184.84L63.11 185.36M63.11 189.5L62.59 190.02M59.48 179.66L58.45 180.18M58.45 183.81L59.48 184.32M57.93 184.84L57.41 185.36M58.45 184.84L57.93 185.36M63.11 184.84L63.63 185.36M57.41 189.5L57.93 190.02M57.93 189.5L58.45 190.02M63.63 189.5L63.11 190.02M61.56 179.66L62.59 180.18M62.59 183.81L61.56 184.32M61.56 184.32L62.59 184.84M62.59 190.02L61.56 190.54" stroke="#000" stroke-width="0.8" fill="none" stroke-linecap="round" stroke-linejoin="round"/>
<path d="M21.15 258.2L20.63 260.79M21.67 258.2L21.15 260.79M26.85 258.2L27.37 260.79M27.37 258.2L27.89 260.79M20.63 262.35L21.15 264.94M21.15 262.35L21.67 264.94M27.37 262.35L26.85 264.94M27.89 262.35L27.37 264.94M23.74 256.13L22.19 256.65M24.78 256.13L26.33 256.65M22.19 266.49L23.74 267.01M26.33 266.49L24.78 267.01M22.19 256.65L21.15 258.2M26.33 256.65L27.37 258.2M21.15 264.94L22.19 266.49M27.37 264.94L26.33 266.49M20.63 260.79L20.63 262.35M21.15 260.79L21.15 262.35M27.37 260.79L27.37 262.35M27.89 260.79L27.89 262.35M22.19 257.17L21.67 258.2M26.33 257.17L26.85 258.2M21.67 264.94L22.19 265.97M26.85 264.94L26.33 265.97M23.74 256.13L24.78 256.13M23.74 267.01L24.78 267.01M23.74 256.13L22.71 256.65M22.71 266.49L23.74 267.01M25.81 256.65L26.33 257.17M26.33 265.97L25.81 266.49M22.71 256.65L22.19 257.17M22.19 265.97L22.71 266.49M24.78 256.13L25.81 256.65M25.81 266.49L24.78 267.01M32.03 265.97L31.51 266.49M32.55 266.49L32.03 267.01M32.03 265.97L32.55 266.49M31.51 266.49L32.03 267.01M42.91 259.24L42.91 262.35M43.43 259.24L43.43 262.35M39.28 256.13L37.73 256.65M40.32 256.13L41.87 256.65M37.73 262.35L39.28 262.87M41.35 266.49L39.8 267.01M42.91 262.35L42.39 264.42M43.43 262.35L42.91 264.42M36.69 257.69L36.17 259.24M37.21 257.69L36.69 259.24M36.17 259.76L36.69 261.31M36.69 259.76L37.21 261.31M41.35 262.35L39.8 262.87M42.39 257.69L42.91 259.24M42.91 257.69L43.43 259.24M38.25 267.01L39.8 267.01M42.91 259.76L42.39 261.31M36.69 265.46L37.21 266.49M41.87 265.46L40.84 266.49M38.25 256.65L37.21 257.69M41.35 256.65L42.39 257.69M37.21 261.31L38.25 262.35M42.39 265.46L41.35 266.49M37.73 256.65L36.69 257.69M41.87 256.65L42.91 257.69M36.69 261.31L37.73 262.35M42.39 261.31L41.35 262.35M42.39 264.42L41.87 265.46M42.91 264.42L42.39 265.46M37.21 266.49L38.25 267.01M39.28 256.13L40.32 256.13M37.21 264.42L36.69 264.94M37.73 264.94L37.21 265.46M39.28 256.13L38.25 256.65M38.25 262.35L39.28 262.87M37.21 264.42L37.73 264.94M40.32 256.13L41.35 256.65M40.84 266.49L39.8 267.01M36.17 259.24L36.17 259.76M36.69 259.24L36.69 259.76M39.28 262.87L39.8 262.87M36.69 264.94L36.69 265.46M53.27 259.24L53.27 262.35M53.79 259.24L53.79 262.35M49.64 256.13L48.09 256.65M50.68 256.13L52.23 256.65M48.09 262.35L49.64 262.87M51.71 266.49L50.16 267.01M53.27 262.35L52.75 264.42M53.79 262.35L53.27 264.42M47.05 257.69L46.53 259.24M47.57 257.69L47.05 259.24M46.53 259.76L47.05 261.31M47.05 259.76L47.57 261.31M51.71 262.35L50.16 262.87M52.75 257.69L53.27 259.24M53.27 257.69L53.79 259.24M48.61 267.01L50.16 267.01M53.27 259.76L52.75 261.31M47.05 265.46L47.57 266.49M52.23 265.46L51.2 266.49M48.61 256.65L47.57 257.69M51.71 256.65L52.75 257.69M47.57 261.31L48.61 262.35M52.75 265.46L51.71 266.49M48.09 256.65L47.05 257.69M52.23 256.65L53.27 257.69M47.05 261.31L48.09 262.35M52.75 261.31L51.71 262.35M52.75 264.42L52.23 265.46M53.27 264.42L52.75 265.46M47.57 266.49L48.61 267.01M49.64 256.13L50.68 256.13M47.57 264.42L47.05 264.94M48.09 264.94L47.57 265.46M49.64 256.13L48.61 256.65M48.61 262.35L49.64 262.87M47.57 264.42L48.09 264.94M50.68 256.13L51.71 256.65M51.2 266.49L50.16 267.01M46.53 259.24L46.53 259.76M47.05 259.24L47.05 259.76M49.64 262.87L50.16 262.87M47.05 264.94L47.05 265.46M56.89 256.13L56.89 259.24M59.48 256.13L62.07 257.69M63.63 259.24L61.56 261.83M60 264.42L60 267.01M60.52 264.42L60.52 267.01M59.48 256.65L62.07 257.69M63.63 259.24L61.04 261.83M64.15 256.13L64.15 257.69M60.52 262.87L60 264.42M61.04 262.87L60.52 264.42M64.15 257.69L63.63 259.24M58.45 256.65L57.41 257.17M58.45 256.13L59.48 256.13M62.07 257.69L63.11 257.69M61.04 261.83L60.52 262.87M61.56 261.83L61.04 262.87M64.15 256.13L63.63 257.17M58.45 256.65L59.48 256.65M57.41 257.17L56.89 258.2M58.45 256.13L57.41 257.17M63.63 257.17L63.11 257.69" stroke="#000" stroke-width="0.8" fill="none" stroke-linecap="round" stroke-linejoin="round"/>
<path d="M21.15 334.67L20.63 337.26M21.67 334.67L21.15 337.26M26.85 334.67L27.37 337.26M27.37 334.67L27.89 337.26M20.63 338.82L21.15 341.41M21.15 338.82L21.67 341.41M27.37 338.82L26.85 341.41M27.89 338.82L27.37 341.41M23.74 332.6L22.19 333.12M24.78 332.6L26.33 333.12M22.19 342.96L23.74 343.48M26.33 342.96L24.78 343.48M22.19 333.12L21.15 334.67M26.33 333.12L27.37 334.67M21.15 341.41L22.19 342.96M27.37 341.41L26.33 342.96M20.63 337.26L20.63 338.82M21.15 337.26L21.15 338.82M27.37 337.26L27.37 338.82M27.89 337.26L27.89 338.82M22.19 333.64L21.67 334.67M26.33 333.64L26.85 334.67M21.67 341.41L22.19 342.44M26.85 341.41L26.33 342.44M23.74 332.6L24.78 332.6M23.74 343.48L24.78 343.48M23.74 332.6L22.71 333.12M22.71 342.96L23.74 343.48M25.81 333.12L26.33 333.64M26.33 342.44L25.81 342.96M22.71 333.12L22.19 333.64M22.19 342.44L22.71 342.96M24.78 332.6L25.81 333.12M25.81 342.96L24.78 343.48M32.03 342.44L31.51 342.96M32.55 342.96L32.03 343.48M32.03 342.44L32.55 342.96M31.51 342.96L32.03 343.48M42.91 335.71L42.91 338.82M43.43 335.71L43.43 338.82M39.28 332.6L37.73 333.12M40.32 332.6L41.87 333.12M37.73 338.82L39.28 339.34M41.35 342.96L39.8 343.48M42.91 338.82L42.39 340.89M43.43 338.82L42.91 340.89M36.69 334.16L36.17 335.71M37.21 334.16L36.69 335.71M36.17 336.23L36.69 337.78M36.69 336.23L37.21 337.78M41.35 338.82L39.8 339.34M42.39 334.16L42.91 335.71M42.91 334.16L43.43 335.71M38.25 343.48L39.8 343.48M42.91 336.23L42.39 337.78M36.69 341.93L37.21 342.96M41.87 341.93L40.84 342.96M38.25 333.12L37.21 334.16M41.35 333.12L42.39 334.16M37.21 337.78L38.25 338.82M42.39 341.93L41.35 342.96M37.73 333.12L36.69 334.16M41.87 333.12L42.91 334.16M36.69 337.78L37.73 338.82M42.39 337.78L41.35 338.82M42.39 340.89L41.87 341.93M42.91 340.89L42.39 341.93M37.21 342.96L38.25 343.48M39.28 332.6L40.32 332.6M37.21 340.89L36.69 341.41M37.73 341.41L37.21 341.93M39.28 332.6L38.25 333.12M38.25 338.82L39.28 339.34M37.21 340.89L37.73 341.41M40.32 332.6L41.35 333.12M40.84 342.96L39.8 343.48M36.17 335.71L36.17 336.23M36.69 335.71L36.69 336.23M39.28 339.34L39.8 339.34M36.69 341.41L36.69 341.93M53.27 335.71L53.27 338.82M53.79 335.71L53.79 338.82M49.64 332.6L48.09 333.12M50.68 332.6L52.23 333.12M48.09 338.82L49.64 339.34M51.71 342.96L50.16 343.48M53.27 338.82L52.75 340.89M53.79 338.82L53.27 340.89M47.05 334.16L46.53 335.71M47.57 334.16L47.05 335.71M46.53 336.23L47.05 337.78M47.05 336.23L47.57 337.78M51.71 338.82L50.16 339.34M52.75 334.16L53.27 335.71M53.27 334.16L53.79 335.71M48.61 343.48L50.16 343.48M53.27 336.23L52.75 337.78M47.05 341.93L47.57 342.96M52.23 341.93L51.2 342.96M48.61 333.12L47.57 334.16M51.71 333.12L52.75 334.16M47.57 337.78L48.61 338.82M52.75 341.93L51.71 342.96M48.09 333.12L47.05 334.16M52.23 333.12L53.27 334.16M47.05 337.78L48.09 338.82M52.75 337.78L51.71 338.82M52.75 340.89L52.23 341.93M53.27 340.89L52.75 341.93M47.57 342.96L48.61 343.48M49.64 332.6L50.68 332.6M47.57 340.89L47.05 341.41M48.09 341.41L47.57 341.93M49.64 332.6L48.61 333.12M48.61 338.82L49.64 339.34M47.57 340.89L48.09 341.41M50.68 332.6L51.71 333.12M51.2 342.96L50.16 343.48M46.53 335.71L46.53 336.23M47.05 335.71L47.05 336.23M49.64 339.34L50.16 339.34M47.05 341.41L47.05 341.93M57.41 337.26L57.41 340.37M56.89 337.26L56.89 340.37M60.52 332.6L58.97 333.12M61.04 336.75L62.59 337.26M58.45 342.96L60 343.48M62.59 342.96L61.04 343.48M57.41 335.19L56.89 337.26M57.93 335.19L57.41 337.26M60.52 336.75L58.97 337.26M63.11 338.3L63.63 339.85M63.63 338.3L64.15 339.85M63.63 340.37L63.11 341.93M64.15 340.37L63.63 341.93M56.89 340.37L57.41 341.93M57.41 340.37L57.93 341.93M60.52 332.6L62.07 332.6M57.93 338.3L57.41 339.85M63.11 333.12L63.63 334.16M59.48 333.12L58.45 334.16M58.97 333.12L57.93 334.16M62.07 337.26L63.11 338.3M57.93 341.93L58.97 342.96M63.11 341.93L62.07 342.96M58.97 337.26L57.93 338.3M62.59 337.26L63.63 338.3M57.41 341.93L58.45 342.96M63.63 341.93L62.59 342.96M62.07 332.6L63.11 333.12M57.93 334.16L57.41 335.19M58.45 334.16L57.93 335.19M60 343.48L61.04 343.48M63.63 334.67L63.11 335.19M63.11 334.16L62.59 334.67M60.52 332.6L59.48 333.12M58.97 342.96L60 343.48M62.59 334.67L63.11 335.19M61.04 336.75L62.07 337.26M62.07 342.96L61.04 343.48M63.63 334.16L63.63 334.67M60.52 336.75L61.04 336.75M63.63 339.85L63.63 340.37M64.15 339.85L64.15 340.37" stroke="#000" stroke-width="0.8" fill="none" stroke-linecap="round" stroke-linejoin="round"/>
<path d="M74.29 373.19L73.77 375.78M74.81 373.19L74.29 375.78M79.99 373.19L80.51 375.78M80.51 373.19L81.03 375.78M73.77 377.34L74.29 379.93M74.29 377.34L74.81 379.93M80.51 377.34L79.99 379.93M81.03 377.34L80.51 379.93M76.88 371.12L75.33 371.64M77.92 371.12L79.47 371.64M75.33 381.48L76.88 382M79.47 381.48L77.92 382M75.33 371.64L74.29 373.19M79.47 371.64L80.51 373.19M74.29 379.93L75.33 381.48M80.51 379.93L79.47 381.48M73.77 375.78L73.77 377.34M74.29 375.78L74.29 377.34M80.51 375.78L80.51 377.34M81.03 375.78L81.03 377.34M75.33 372.16L74.81 373.19M79.47 372.16L79.99 373.19M74.81 379.93L75.33 380.96M79.99 379.93L79.47 380.96M76.88 371.12L77.92 371.12M76.88 382L77.92 382M76.88 371.12L75.85 371.64M75.85 381.48L76.88 382M78.95 371.64L79.47 372.16M79.47 380.96L78.95 381.48M75.85 371.64L75.33 372.16M75.33 380.96L75.85 381.48M77.92 371.12L78.95 371.64M78.95 381.48L77.92 382M85.17 380.96L84.65 381.48M85.69 381.48L85.17 382M85.17 380.96L85.69 381.48M84.65 381.48L85.17 382M89.83 373.19L89.31 375.78M90.35 373.19L89.83 375.78M95.53 373.19L96.05 375.78M96.05 373.19L96.57 375.78M89.31 377.34L89.83 379.93M89.83 377.34L90.35 379.93M96.05 377.34L95.53 379.93M96.57 377.34L96.05 379.93M92.42 371.12L90.87 371.64M93.46 371.12L95.01 371.64M90.87 381.48L92.42 382M95.01 381.48L93.46 382M90.87 371.64L89.83 373.19M95.01 371.64L96.05 373.19M89.83 379.93L90.87 381.48M96.05 379.93L95.01 381.48M89.31 375.78L89.31 377.34M89.83 375.78L89.83 377.34M96.05 375.78L96.05 377.34M96.57 375.78L96.57 377.34M90.87 372.16L90.35 373.19M95.01 372.16L95.53 373.19M90.35 379.93L90.87 380.96M95.53 379.93L95.01 380.96M92.42 371.12L93.46 371.12M92.42 382L93.46 382M92.42 371.12L91.39 371.64M91.39 381.48L92.42 382M94.49 371.64L95.01 372.16M95.01 380.96L94.49 381.48M91.39 371.64L90.87 372.16M90.87 380.96L91.39 381.48M93.46 371.12L94.49 371.64M94.49 381.48L93.46 382M103.82 371.12L103.82 382M103.3 371.64L103.3 382M101.23 382L105.89 382M103.82 371.12L102.26 372.68M102.26 372.68L101.23 373.19" stroke="#000" stroke-width="0.8" fill="none" stroke-linecap="round" stroke-linejoin="round"/>
<path d="M244.59 373.19L244.07 375.78M245.11 373.19L244.59 375.78M250.29 373.19L250.8 375.78M250.8 373.19L251.32 375.78M244.07 377.34L244.59 379.93M244.59 377.34L245.11 379.93M250.8 377.34L250.29 379.93M251.32 377.34L250.8 379.93M247.18 371.12L245.62 371.64M248.21 371.12L249.77 371.64M245.62 381.48L247.18 382M249.77 381.48L248.21 382M245.62 371.64L244.59 373.19M249.77 371.64L250.8 373.19M244.59 379.93L245.62 381.48M250.8 379.93L249.77 381.48M244.07 375.78L244.07 377.34M244.59 375.78L244.59 377.34M250.8 375.78L250.8 377.34M251.32 375.78L251.32 377.34M245.62 372.16L245.11 373.19M249.77 372.16L250.29 373.19M245.11 379.93L245.62 380.96M250.29 379.93L249.77 380.96M247.18 371.12L248.21 371.12M247.18 382L248.21 382M247.18 371.12L246.14 371.64M246.14 381.48L247.18 382M249.25 371.64L249.77 372.16M249.77 380.96L249.25 381.48M246.14 371.64L245.62 372.16M245.62 380.96L246.14 381.48M248.21 371.12L249.25 371.64M249.25 381.48L248.21 382M255.47 380.96L254.95 381.48M255.98 381.48L255.47 382M255.47 380.96L255.98 381.48M254.95 381.48L255.47 382M263.75 371.12L263.75 382M263.24 371.64L263.24 382M261.16 382L265.83 382M263.75 371.12L262.2 372.68M262.2 372.68L261.16 373.19" stroke="#000" stroke-width="0.8" fill="none" stroke-linecap="round" stroke-linejoin="round"/>
<path d="M421.1 371.12L421.1 382M420.58 371.64L420.58 382M418.51 382L423.17 382M421.1 371.12L419.55 372.68M419.55 372.68L418.51 373.19" stroke="#000" stroke-width="0.8" fill="none" stroke-linecap="round" stroke-linejoin="round"/>
<path d="M581.04 371.12L581.04 382M580.52 371.64L580.52 382M578.45 382L583.11 382M581.04 371.12L579.48 372.68M579.48 372.68L578.45 373.19M587.77 373.19L587.25 375.78M588.29 373.19L587.77 375.78M593.47 373.19L593.99 375.78M593.99 373.19L594.51 375.78M587.25 377.34L587.77 379.93M587.77 377.34L588.29 379.93M593.99 377.34L593.47 379.93M594.51 377.34L593.99 379.93M590.36 371.12L588.81 371.64M591.4 371.12L592.95 371.64M588.81 381.48L590.36 382M592.95 381.48L591.4 382M588.81 371.64L587.77 373.19M592.95 371.64L593.99 373.19M587.77 379.93L588.81 381.48M593.99 379.93L592.95 381.48M587.25 375.78L587.25 377.34M587.77 375.78L587.77 377.34M593.99 375.78L593.99 377.34M594.51 375.78L594.51 377.34M588.81 372.16L588.29 373.19M592.95 372.16L593.47 373.19M588.29 379.93L588.81 380.96M593.47 379.93L592.95 380.96M590.36 371.12L591.4 371.12M590.36 382L591.4 382M590.36 371.12L589.33 371.64M589.33 381.48L590.36 382M592.43 371.64L592.95 372.16M592.95 380.96L592.43 381.48M589.33 371.64L588.81 372.16M588.81 380.96L589.33 381.48M591.4 371.12L592.43 371.64M592.43 381.48L591.4 382" stroke="#000" stroke-width="0.8" fill="none" stroke-linecap="round" stroke-linejoin="round"/>
<path d="M57.41 568.04L56.89 570.63M57.93 568.04L57.41 570.63M63.11 568.04L63.63 570.63M63.63 568.04L64.15 570.63M56.89 572.19L57.41 574.78M57.41 572.19L57.93 574.78M63.63 572.19L63.11 574.78M64.15 572.19L63.63 574.78M60 565.97L58.45 566.49M61.04 565.97L62.59 566.49M58.45 576.33L60 576.85M62.59 576.33L61.04 576.85M58.45 566.49L57.41 568.04M62.59 566.49L63.63 568.04M57.41 574.78L58.45 576.33M63.63 574.78L62.59 576.33M56.89 570.63L56.89 572.19M57.41 570.63L57.41 572.19M63.63 570.63L63.63 572.19M64.15 570.63L64.15 572.19M58.45 567.01L57.93 568.04M62.59 567.01L63.11 568.04M57.93 574.78L58.45 575.81M63.11 574.78L62.59 575.81M60 565.97L61.04 565.97M60 576.85L61.04 576.85M60 565.97L58.97 566.49M58.97 576.33L60 576.85M62.07 566.49L62.59 567.01M62.59 575.81L62.07 576.33M58.97 566.49L58.45 567.01M58.45 575.81L58.97 576.33M61.04 565.97L62.07 566.49M62.07 576.33L61.04 576.85" stroke="#000" stroke-width="0.8" fill="none" stroke-linecap="round" stroke-linejoin="round"/>
<path d="M41.87 508.59L41.35 511.18M42.39 508.59L41.87 511.18M47.57 508.59L48.09 511.18M48.09 508.59L48.61 511.18M41.35 512.74L41.87 515.33M41.87 512.74L42.39 515.33M48.09 512.74L47.57 515.33M48.61 512.74L48.09 515.33M44.46 506.52L42.91 507.04M45.5 506.52L47.05 507.04M42.91 516.88L44.46 517.4M47.05 516.88L45.5 517.4M42.91 507.04L41.87 508.59M47.05 507.04L48.09 508.59M41.87 515.33L42.91 516.88M48.09 515.33L47.05 516.88M41.35 511.18L41.35 512.74M41.87 511.18L41.87 512.74M48.09 511.18L48.09 512.74M48.61 511.18L48.61 512.74M42.91 507.56L42.39 508.59M47.05 507.56L47.57 508.59M42.39 515.33L42.91 516.36M47.57 515.33L47.05 516.36M44.46 506.52L45.5 506.52M44.46 517.4L45.5 517.4M44.46 506.52L43.43 507.04M43.43 516.88L44.46 517.4M46.53 507.04L47.05 507.56M47.05 516.36L46.53 516.88M43.43 507.04L42.91 507.56M42.91 516.36L43.43 516.88M45.5 506.52L46.53 507.04M46.53 516.88L45.5 517.4M52.75 516.36L52.23 516.88M53.27 516.88L52.75 517.4M52.75 516.36L53.27 516.88M52.23 516.88L52.75 517.4M57.93 506.52L63.11 506.52M57.93 506.52L56.89 511.7M57.93 507.04L60.52 507.04M61.04 510.15L62.59 510.67M62.59 516.88L61.04 517.4M63.11 506.52L60.52 507.04M59.48 510.15L57.93 510.67M63.11 511.7L63.63 513.26M63.63 511.7L64.15 513.26M63.63 514.29L63.11 515.85M64.15 514.29L63.63 515.85M57.93 516.88L59.48 517.4M59.48 510.15L61.04 510.15M59.48 517.4L61.04 517.4M56.89 515.33L57.41 516.36M62.07 510.67L63.11 511.7M63.11 515.85L62.07 516.88M62.59 510.67L63.63 511.7M63.63 515.85L62.59 516.88M57.93 510.67L56.89 511.7M63.63 513.26L63.63 514.29M64.15 513.26L64.15 514.29M57.41 514.29L56.89 514.81M57.93 514.81L57.41 515.33M57.41 514.29L57.93 514.81M57.41 516.36L57.93 516.88M61.04 510.15L62.07 510.67M62.07 516.88L61.04 517.4M56.89 514.81L56.89 515.33" stroke="#000" stroke-width="0.8" fill="none" stroke-linecap="round" stroke-linejoin="round"/>
<path d="M61.04 447.07L61.04 457.95M60.52 447.59L60.52 457.95M58.45 457.95L63.11 457.95M61.04 447.07L59.48 448.63M59.48 448.63L58.45 449.14" stroke="#000" stroke-width="0.8" fill="none" stroke-linecap="round" stroke-linejoin="round"/>
<path d="M71.09 582.89L70.57 585.48M71.61 582.89L71.09 585.48M76.79 582.89L77.31 585.48M77.31 582.89L77.83 585.48M70.57 587.04L71.09 589.63M71.09 587.04L71.61 589.63M77.31 587.04L76.79 589.63M77.83 587.04L77.31 589.63M73.68 580.82L72.13 581.34M74.72 580.82L76.27 581.34M72.13 591.18L73.68 591.7M76.27 591.18L74.72 591.7M72.13 581.34L71.09 582.89M76.27 581.34L77.31 582.89M71.09 589.63L72.13 591.18M77.31 589.63L76.27 591.18M70.57 585.48L70.57 587.04M71.09 585.48L71.09 587.04M77.31 585.48L77.31 587.04M77.83 585.48L77.83 587.04M72.13 581.86L71.61 582.89M76.27 581.86L76.79 582.89M71.61 589.63L72.13 590.66M76.79 589.63L76.27 590.66M73.68 580.82L74.72 580.82M73.68 591.7L74.72 591.7M73.68 580.82L72.65 581.34M72.65 591.18L73.68 591.7M75.75 581.34L76.27 581.86M76.27 590.66L75.75 591.18M72.65 581.34L72.13 581.86M72.13 590.66L72.65 591.18M74.72 580.82L75.75 581.34M75.75 591.18L74.72 591.7" stroke="#000" stroke-width="0.8" fill="none" stroke-linecap="round" stroke-linejoin="round"/>
<path d="M165.64 582.89L165.12 585.48M166.16 582.89L165.64 585.48M171.34 582.89L171.86 585.48M171.86 582.89L172.38 585.48M165.12 587.04L165.64 589.63M165.64 587.04L166.16 589.63M171.86 587.04L171.34 589.63M172.38 587.04L171.86 589.63M168.23 580.82L166.68 581.34M169.27 580.82L170.82 581.34M166.68 591.18L168.23 591.7M170.82 591.18L169.27 591.7M166.68 581.34L165.64 582.89M170.82 581.34L171.86 582.89M165.64 589.63L166.68 591.18M171.86 589.63L170.82 591.18M165.12 585.48L165.12 587.04M165.64 585.48L165.64 587.04M171.86 585.48L171.86 587.04M172.38 585.48L172.38 587.04M166.68 581.86L166.16 582.89M170.82 581.86L171.34 582.89M166.16 589.63L166.68 590.66M171.34 589.63L170.82 590.66M168.23 580.82L169.27 580.82M168.23 591.7L169.27 591.7M168.23 580.82L167.2 581.34M167.2 591.18L168.23 591.7M170.3 581.34L170.82 581.86M170.82 590.66L170.3 591.18M167.2 581.34L166.68 581.86M166.68 590.66L167.2 591.18M169.27 580.82L170.3 581.34M170.3 591.18L169.27 591.7M176.52 590.66L176 591.18M177.04 591.18L176.52 591.7M176.52 590.66L177.04 591.18M176 591.18L176.52 591.7M185.33 586L182.22 587.56M182.22 590.15L184.81 591.7M182.22 590.15L184.81 591.18M183.25 580.82L185.33 580.82M184.81 591.7L186.88 591.7M185.33 580.82L186.88 581.34M185.84 586L183.25 587.04M181.18 588.59L180.66 590.15M186.88 584.97L185.33 586M187.4 584.97L185.84 586M183.25 580.82L181.7 581.34M180.66 590.15L180.66 591.7M184.81 591.18L186.36 591.18M187.92 590.15L187.4 591.18M181.18 581.86L180.66 582.89M186.88 581.86L187.4 582.89M187.4 581.86L187.92 582.89M187.4 583.93L186.88 584.97M187.92 583.93L187.4 584.97M187.4 590.66L186.36 591.18M181.18 590.15L182.22 590.15M187.92 589.11L187.92 590.15M182.22 587.56L181.18 588.59M187.4 582.89L187.4 583.93M187.92 582.89L187.92 583.93M180.66 583.41L181.18 583.93M181.18 582.89L181.7 583.41M186.36 581.34L186.88 581.86M181.7 581.34L181.18 581.86M186.88 581.34L187.4 581.86M181.7 583.41L181.18 583.93M187.4 591.18L186.88 591.7M185.33 580.82L186.36 581.34M181.18 590.15L180.66 590.66M180.66 582.89L180.66 583.41M187.92 590.15L187.4 590.66" stroke="#000" stroke-width="0.8" fill="none" stroke-linecap="round" stroke-linejoin="round"/>
<path d="M267.96 582.89L267.44 585.48M268.48 582.89L267.96 585.48M273.66 582.89L274.18 585.48M274.18 582.89L274.7 585.48M267.44 587.04L267.96 589.63M267.96 587.04L268.48 589.63M274.18 587.04L273.66 589.63M274.7 587.04L274.18 589.63M270.55 580.82L269 581.34M271.59 580.82L273.14 581.34M269 591.18L270.55 591.7M273.14 591.18L271.59 591.7M269 581.34L267.96 582.89M273.14 581.34L274.18 582.89M267.96 589.63L269 591.18M274.18 589.63L273.14 591.18M267.44 585.48L267.44 587.04M267.96 585.48L267.96 587.04M274.18 585.48L274.18 587.04M274.7 585.48L274.7 587.04M269 581.86L268.48 582.89M273.14 581.86L273.66 582.89M268.48 589.63L269 590.66M273.66 589.63L273.14 590.66M270.55 580.82L271.59 580.82M270.55 591.7L271.59 591.7M270.55 580.82L269.52 581.34M269.52 591.18L270.55 591.7M272.62 581.34L273.14 581.86M273.14 590.66L272.62 591.18M269.52 581.34L269 581.86M269 590.66L269.52 591.18M271.59 580.82L272.62 581.34M272.62 591.18L271.59 591.7M278.84 590.66L278.32 591.18M279.36 591.18L278.84 591.7M278.84 590.66L279.36 591.18M278.32 591.18L278.84 591.7M288.16 580.82L288.16 591.7M287.65 581.86L287.65 591.7M282.47 588.59L290.75 588.59M288.16 580.82L282.47 588.59M286.09 591.7L289.72 591.7" stroke="#000" stroke-width="0.8" fill="none" stroke-linecap="round" stroke-linejoin="round"/>
<path d="M370.28 582.89L369.76 585.48M370.8 582.89L370.28 585.48M375.98 582.89L376.5 585.48M376.5 582.89L377.02 585.48M369.76 587.04L370.28 589.63M370.28 587.04L370.8 589.63M376.5 587.04L375.98 589.63M377.02 587.04L376.5 589.63M372.87 580.82L371.32 581.34M373.91 580.82L375.46 581.34M371.32 591.18L372.87 591.7M375.46 591.18L373.91 591.7M371.32 581.34L370.28 582.89M375.46 581.34L376.5 582.89M370.28 589.63L371.32 591.18M376.5 589.63L375.46 591.18M369.76 585.48L369.76 587.04M370.28 585.48L370.28 587.04M376.5 585.48L376.5 587.04M377.02 585.48L377.02 587.04M371.32 581.86L370.8 582.89M375.46 581.86L375.98 582.89M370.8 589.63L371.32 590.66M375.98 589.63L375.46 590.66M372.87 580.82L373.91 580.82M372.87 591.7L373.91 591.7M372.87 580.82L371.84 581.34M371.84 591.18L372.87 591.7M374.94 581.34L375.46 581.86M375.46 590.66L374.94 591.18M371.84 581.34L371.32 581.86M371.32 590.66L371.84 591.18M373.91 580.82L374.94 581.34M374.94 591.18L373.91 591.7M381.16 590.66L380.64 591.18M381.68 591.18L381.16 591.7M381.16 590.66L381.68 591.18M380.64 591.18L381.16 591.7M385.82 585.48L385.82 588.59M385.3 585.48L385.3 588.59M388.93 580.82L387.38 581.34M389.45 584.97L391 585.48M386.86 591.18L388.41 591.7M391 591.18L389.45 591.7M385.82 583.41L385.3 585.48M386.34 583.41L385.82 585.48M388.93 584.97L387.38 585.48M391.52 586.52L392.04 588.07M392.04 586.52L392.56 588.07M392.04 588.59L391.52 590.15M392.56 588.59L392.04 590.15M385.3 588.59L385.82 590.15M385.82 588.59L386.34 590.15M388.93 580.82L390.48 580.82M386.34 586.52L385.82 588.07M391.52 581.34L392.04 582.38M387.89 581.34L386.86 582.38M387.38 581.34L386.34 582.38M390.48 585.48L391.52 586.52M386.34 590.15L387.38 591.18M391.52 590.15L390.48 591.18M387.38 585.48L386.34 586.52M391 585.48L392.04 586.52M385.82 590.15L386.86 591.18M392.04 590.15L391 591.18M390.48 580.82L391.52 581.34M386.34 582.38L385.82 583.41M386.86 582.38L386.34 583.41M388.41 591.7L389.45 591.7M392.04 582.89L391.52 583.41M391.52 582.38L391 582.89M388.93 580.82L387.89 581.34M387.38 591.18L388.41 591.7M391 582.89L391.52 583.41M389.45 584.97L390.48 585.48M390.48 591.18L389.45 591.7M392.04 582.38L392.04 582.89M388.93 584.97L389.45 584.97M392.04 588.07L392.04 588.59M392.56 588.07L392.56 588.59" stroke="#000" stroke-width="0.8" fill="none" stroke-linecap="round" stroke-linejoin="round"/>
<path d="M472.6 582.89L472.08 585.48M473.12 582.89L472.6 585.48M478.3 582.89L478.82 585.48M478.82 582.89L479.34 585.48M472.08 587.04L472.6 589.63M472.6 587.04L473.12 589.63M478.82 587.04L478.3 589.63M479.34 587.04L478.82 589.63M475.19 580.82L473.64 581.34M476.23 580.82L477.78 581.34M473.64 591.18L475.19 591.7M477.78 591.18L476.23 591.7M473.64 581.34L472.6 582.89M477.78 581.34L478.82 582.89M472.6 589.63L473.64 591.18M478.82 589.63L477.78 591.18M472.08 585.48L472.08 587.04M472.6 585.48L472.6 587.04M478.82 585.48L478.82 587.04M479.34 585.48L479.34 587.04M473.64 581.86L473.12 582.89M477.78 581.86L478.3 582.89M473.12 589.63L473.64 590.66M478.3 589.63L477.78 590.66M475.19 580.82L476.23 580.82M475.19 591.7L476.23 591.7M475.19 580.82L474.16 581.34M474.16 591.18L475.19 591.7M477.26 581.34L477.78 581.86M477.78 590.66L477.26 591.18M474.16 581.34L473.64 581.86M473.64 590.66L474.16 591.18M476.23 580.82L477.26 581.34M477.26 591.18L476.23 591.7M483.48 590.66L482.96 591.18M484 591.18L483.48 591.7M483.48 590.66L484 591.18M482.96 591.18L483.48 591.7M488.66 584.97L490.21 585.48M493.84 584.97L492.29 585.48M490.21 580.82L492.29 580.82M490.21 591.7L492.29 591.7M487.62 587.56L487.62 589.63M488.14 587.56L488.14 589.63M494.36 587.56L494.36 589.63M494.88 587.56L494.88 589.63M492.29 580.82L493.84 581.34M493.84 591.18L492.29 591.7M490.21 580.82L488.66 581.34M488.66 591.18L490.21 591.7M490.21 585.48L492.29 585.48M492.29 585.48L493.84 586M490.21 585.48L488.66 586M488.14 582.38L488.14 583.93M488.66 582.38L488.66 583.93M493.84 582.38L493.84 583.93M494.36 582.38L494.36 583.93M489.18 581.34L488.66 582.38M493.32 581.34L493.84 582.38M488.66 583.93L489.18 584.97M493.84 583.93L493.32 584.97M488.14 586.52L487.62 587.56M488.66 586.52L488.14 587.56M493.84 586.52L494.36 587.56M494.36 586.52L494.88 587.56M487.62 589.63L488.14 590.66M488.14 589.63L488.66 590.66M494.36 589.63L493.84 590.66M494.88 589.63L494.36 590.66M488.66 581.34L488.14 582.38M493.84 581.34L494.36 582.38M488.14 583.93L488.66 584.97M494.36 583.93L493.84 584.97M490.21 585.48L489.18 586M489.18 591.18L490.21 591.7M493.32 586L493.84 586.52M493.84 590.66L493.32 591.18M490.21 580.82L489.18 581.34M489.18 584.97L490.21 585.48M488.66 586L488.14 586.52M489.18 586L488.66 586.52M493.84 586L494.36 586.52M488.14 590.66L488.66 591.18M488.66 590.66L489.18 591.18M494.36 590.66L493.84 591.18M492.29 580.82L493.32 581.34M493.32 584.97L492.29 585.48M492.29 585.48L493.32 586M493.32 591.18L492.29 591.7" stroke="#000" stroke-width="0.8" fill="none" stroke-linecap="round" stroke-linejoin="round"/>
<path d="M586.32 580.82L586.32 591.7M585.8 581.34L585.8 591.7M583.73 591.7L588.39 591.7M586.32 580.82L584.76 582.38M584.76 582.38L583.73 582.89" stroke="#000" stroke-width="0.8" fill="none" stroke-linecap="round" stroke-linejoin="round"/>
<path d="M331.86 373.69L331.86 386.5M331.25 373.69L331.25 386.5M329.42 373.69L336.74 373.69M331.86 380.4L336.74 380.4M329.42 386.5L333.69 386.5M336.74 373.69L338.57 374.3M338.57 379.79L336.74 380.4M339.18 376.13L339.18 377.96M339.79 376.13L339.79 377.96M338.57 374.91L339.18 376.13M339.18 374.91L339.79 376.13M339.18 377.96L338.57 379.18M339.79 377.96L339.18 379.18M337.96 374.3L338.57 374.91M338.57 379.18L337.96 379.79M338.57 374.3L339.18 374.91M339.18 379.18L338.57 379.79M336.74 373.69L337.96 374.3M337.96 379.79L336.74 380.4" stroke="#000" stroke-width="0.9" fill="none" stroke-linecap="round" stroke-linejoin="round"/>
<path d="M239.5 36.28L239.1 38.13M239.9 36.28L239.5 38.13M239.1 39.61L239.5 41.46M239.5 39.61L239.9 41.46M241.1 33.69L240.3 35.17M240.3 42.57L241.1 44.05M240.3 34.8L239.5 36.28M239.5 41.46L240.3 42.94M239.1 38.13L239.1 39.61M239.5 38.13L239.5 39.61M240.3 35.17L239.9 36.28M239.9 41.46L240.3 42.57M241.9 32.95L241.1 33.69M241.1 44.05L241.9 44.79M241.1 33.69L240.3 34.8M240.3 42.94L241.1 44.05M248.7 37.76L248.7 41.09M249.1 38.5L249.1 41.09M248.3 38.87L245.9 39.24M245.9 37.02L247.5 37.02M244.7 41.83L245.9 42.2M245.9 39.24L244.7 39.61M245.9 42.2L247.1 42.2M249.1 41.83L249.9 42.2M245.1 39.61L244.7 40.35M244.7 41.09L245.1 41.83M244.3 40.35L244.3 41.09M248.7 41.09L247.9 41.83M245.9 37.02L245.1 37.39M247.5 37.02L248.3 37.39M249.1 41.09L249.5 41.83M244.7 39.61L244.3 40.35M244.3 41.09L244.7 41.83M248.7 41.09L249.1 41.83M247.9 41.83L247.1 42.2M244.7 40.35L244.7 41.09M248.7 37.76L249.1 38.5M244.7 38.13L245.1 38.13M245.1 37.39L244.7 37.76M245.9 39.24L245.1 39.61M245.1 41.83L245.9 42.2M245.1 37.76L245.1 38.13M249.9 42.2L250.3 42.2M248.3 37.39L248.7 37.76M248.7 38.5L248.3 38.87M244.7 37.76L244.7 38.13M249.5 41.83L249.9 42.2M254.3 36.28L254.7 38.13M254.7 36.28L255.1 38.13M254.7 39.61L254.3 41.46M255.1 39.61L254.7 41.46M253.1 33.69L253.9 35.17M253.9 42.57L253.1 44.05M253.9 34.8L254.7 36.28M254.7 41.46L253.9 42.94M254.7 38.13L254.7 39.61M255.1 38.13L255.1 39.61M253.9 35.17L254.3 36.28M254.3 41.46L253.9 42.57M252.3 32.95L253.1 33.69M253.1 44.05L252.3 44.79M253.1 33.69L253.9 34.8M253.9 42.94L253.1 44.05" stroke="#000" stroke-width="1.0" fill="none" stroke-linecap="round" stroke-linejoin="round"/>
<path d="M239.5 420.18L239.1 422.03M239.9 420.18L239.5 422.03M239.1 423.51L239.5 425.36M239.5 423.51L239.9 425.36M241.1 417.59L240.3 419.07M240.3 426.47L241.1 427.95M240.3 418.7L239.5 420.18M239.5 425.36L240.3 426.84M239.1 422.03L239.1 423.51M239.5 422.03L239.5 423.51M240.3 419.07L239.9 420.18M239.9 425.36L240.3 426.47M241.9 416.85L241.1 417.59M241.1 427.95L241.9 428.69M241.1 417.59L240.3 418.7M240.3 426.84L241.1 427.95M245.5 418.33L245.5 426.1M245.1 418.33L245.1 426.1M247.9 420.92L249.1 421.29M249.1 425.73L247.9 426.1M243.9 418.33L245.5 418.33M249.5 422.03L249.9 423.14M249.9 422.03L250.3 423.14M249.9 423.88L249.5 424.99M250.3 423.88L249.9 424.99M247.1 420.92L246.3 421.29M246.3 425.73L247.1 426.1M248.7 421.29L249.5 422.03M249.5 424.99L248.7 425.73M249.1 421.29L249.9 422.03M249.9 424.99L249.1 425.73M246.3 421.29L245.5 422.03M245.5 424.99L246.3 425.73M247.1 420.92L247.9 420.92M249.9 423.14L249.9 423.88M250.3 423.14L250.3 423.88M247.1 426.1L247.9 426.1M247.9 420.92L248.7 421.29M248.7 425.73L247.9 426.1M254.7 420.18L255.1 422.03M255.1 420.18L255.5 422.03M255.1 423.51L254.7 425.36M255.5 423.51L255.1 425.36M253.5 417.59L254.3 419.07M254.3 426.47L253.5 427.95M254.3 418.7L255.1 420.18M255.1 425.36L254.3 426.84M255.1 422.03L255.1 423.51M255.5 422.03L255.5 423.51M254.3 419.07L254.7 420.18M254.7 425.36L254.3 426.47M252.7 416.85L253.5 417.59M253.5 427.95L252.7 428.69M253.5 417.59L254.3 418.7M254.3 426.84L253.5 427.95" stroke="#000" stroke-width="1.0" fill="none" stroke-linecap="round" stroke-linejoin="round"/>
<path d="M265.6 341.6L265.6 350M265.2 341.6L265.2 350M264 341.6L268.8 341.6M265.6 346L268.8 346M264 350L266.8 350M268.8 341.6L270 342M270 345.6L268.8 346M270.4 343.2L270.4 344.4M270.8 343.2L270.8 344.4M270 342.4L270.4 343.2M270.4 342.4L270.8 343.2M270.4 344.4L270 345.2M270.8 344.4L270.4 345.2M269.6 342L270 342.4M270 345.2L269.6 345.6M270 342L270.4 342.4M270.4 345.2L270 345.6M268.8 341.6L269.6 342M269.6 345.6L268.8 346" stroke="#ff00ff" stroke-width="0.75" fill="none" stroke-linecap="round" stroke-linejoin="round"/>
<path d="M272.56 347.78L272.56 352.82M270.46 349.04L274.66 351.56M274.66 349.04L270.46 351.56" stroke="#ff00ff" stroke-width="1.0" fill="none" stroke-linecap="round" stroke-linejoin="round"/>
<path d="M419.1 87.9L419.1 96.3M418.7 87.9L418.7 96.3M417.5 87.9L422.3 87.9M419.1 92.3L422.3 92.3M417.5 96.3L420.3 96.3M422.3 87.9L423.5 88.3M423.5 91.9L422.3 92.3M423.9 89.5L423.9 90.7M424.3 89.5L424.3 90.7M423.5 88.7L423.9 89.5M423.9 88.7L424.3 89.5M423.9 90.7L423.5 91.5M424.3 90.7L423.9 91.5M423.1 88.3L423.5 88.7M423.5 91.5L423.1 91.9M423.5 88.3L423.9 88.7M423.9 91.5L423.5 91.9M422.3 87.9L423.1 88.3M423.1 91.9L422.3 92.3" stroke="#0000ff" stroke-width="0.75" fill="none" stroke-linecap="round" stroke-linejoin="round"/>
<path d="M426.06 94.08L426.06 99.12M423.96 95.34L428.16 97.86M428.16 95.34L423.96 97.86" stroke="#0000ff" stroke-width="1.0" fill="none" stroke-linecap="round" stroke-linejoin="round"/>
<path d="M276.9 205.2L276.9 213.6M276.5 205.2L276.5 213.6M275.3 205.2L280.1 205.2M276.9 209.6L280.1 209.6M275.3 213.6L278.1 213.6M280.1 205.2L281.3 205.6M281.3 209.2L280.1 209.6M281.7 206.8L281.7 208M282.1 206.8L282.1 208M281.3 206L281.7 206.8M281.7 206L282.1 206.8M281.7 208L281.3 208.8M282.1 208L281.7 208.8M280.9 205.6L281.3 206M281.3 208.8L280.9 209.2M281.3 205.6L281.7 206M281.7 208.8L281.3 209.2M280.1 205.2L280.9 205.6M280.9 209.2L280.1 209.6" stroke="#000" stroke-width="0.75" fill="none" stroke-linecap="round" stroke-linejoin="round"/>
<path d="M283.86 211.38L283.86 216.42M281.76 212.64L285.96 215.16M285.96 212.64L281.76 215.16" stroke="#000" stroke-width="1.0" fill="none" stroke-linecap="round" stroke-linejoin="round"/>
<path d="M420.6 121.28L419.1 121.91M419.1 129.47L420.6 130.1M418.1 123.17L417.6 125.06M418.6 123.17L418.1 125.06M417.6 126.32L418.1 128.21M418.1 126.32L418.6 128.21M423.1 129.47L421.6 130.1M420.6 121.28L422.1 121.28M423.1 121.91L424.1 123.17M419.6 121.91L418.6 123.17M418.6 128.21L419.6 129.47M424.1 128.21L423.1 129.47M419.1 121.91L418.1 123.17M418.1 128.21L419.1 129.47M422.1 121.28L423.1 121.91M417.6 125.06L417.6 126.32M418.1 125.06L418.1 126.32M420.6 130.1L421.6 130.1M424.1 123.8L423.6 124.43M423.6 123.17L423.1 123.8M420.6 121.28L419.6 121.91M419.6 129.47L420.6 130.1M423.1 123.8L423.6 124.43M424.1 123.17L424.1 123.8" stroke="#000" stroke-width="1.15" fill="none" stroke-linecap="round" stroke-linejoin="round"/>
<path d="M25.3 481.38L25.3 494.5M24.68 481.38L24.68 494.5M22.8 481.38L30.3 481.38M25.3 488.25L30.3 488.25M22.8 494.5L27.18 494.5M30.3 481.38L32.17 482M32.17 487.62L30.3 488.25M32.8 483.88L32.8 485.75M33.42 483.88L33.42 485.75M32.17 482.62L32.8 483.88M32.8 482.62L33.42 483.88M32.8 485.75L32.17 487M33.42 485.75L32.8 487M31.55 482L32.17 482.62M32.17 487L31.55 487.62M32.17 482L32.8 482.62M32.8 487L32.17 487.62M30.3 481.38L31.55 482M31.55 487.62L30.3 488.25" stroke="#000" stroke-width="0.9" fill="none" stroke-linecap="round" stroke-linejoin="round"/>
<path d="M33.2 492.3L33.2 500.7M29.7 494.4L36.7 498.6M36.7 494.4L29.7 498.6" stroke="#000" stroke-width="0.9" fill="none" stroke-linecap="round" stroke-linejoin="round"/>
<path d="M36.95 212.5L35.65 217.7M36.3 209.25L40.2 209.25M35.65 215.1L34.35 219M36.95 211.85L35.65 215.1M40.2 214.45L37.6 215.1M33.05 222.25L31.1 222.9M37.6 210.55L36.95 212.5M37.6 215.1L39.55 215.75M40.2 219.65L39.55 221.6M40.85 219.65L40.2 221.6M33.7 220.3L32.4 222.25M36.95 219L36.3 220.95M36.3 209.25L34.35 209.9M35.65 217.7L35 219.65M40.2 217.7L40.2 219.65M40.85 217.7L40.85 219.65M39.55 222.25L38.25 222.9M40.2 209.25L41.5 209.9M40.85 209.9L41.5 211.2M31.75 211.85L31.1 213.15M41.5 212.5L40.85 213.8M42.15 212.5L41.5 213.8M31.75 215.1L33.05 215.1M29.15 220.95L29.15 222.25M34.35 213.15L33.7 214.45M41.5 209.9L42.15 211.2M41.5 213.8L40.2 214.45M33.05 210.55L31.75 211.85M34.35 220.95L33.05 222.25M39.55 216.4L40.2 217.7M40.2 216.4L40.85 217.7M31.1 213.15L31.1 214.45M36.3 220.95L36.3 222.25M29.8 222.9L31.1 222.9M36.95 222.9L38.25 222.9M34.35 209.9L33.05 210.55M34.35 219L33.7 220.3M35 219.65L34.35 220.95M41.5 211.2L41.5 212.5M42.15 211.2L42.15 212.5M36.3 215.1L37.6 215.1M39.55 221.6L38.25 222.9M29.8 220.3L30.45 220.95M38.9 215.75L39.55 216.4M38.25 209.9L37.6 210.55M30.45 220.95L29.8 221.6M31.1 214.45L31.75 215.1M33.7 214.45L33.05 215.1M39.55 215.75L40.2 216.4M29.8 220.3L29.15 220.95M40.2 221.6L39.55 222.25M29.15 222.25L29.8 222.9M36.3 222.25L36.95 222.9M37.6 210.55L36.95 211.85M37.6 215.1L38.9 215.75M32.4 222.25L31.1 222.9M40.2 209.25L40.85 209.9M40.85 213.8L40.2 214.45" stroke="#000" stroke-width="0.9" fill="none" stroke-linecap="round" stroke-linejoin="round"/>
<path d="M175.59 259.78L184.32 259.78M175.59 262.69L184.32 262.69M191.59 255.42L191.59 265.6M191.11 255.9L191.11 265.6M189.17 265.6L193.53 265.6M191.59 255.42L190.14 256.87M190.14 256.87L189.17 257.36M198.38 264.63L197.9 265.12M198.87 265.12L198.38 265.6M198.38 264.63L198.87 265.12M197.9 265.12L198.38 265.6M202.75 257.36L202.26 259.78M203.23 257.36L202.75 259.78M208.08 257.36L208.57 259.78M208.57 257.36L209.05 259.78M202.26 261.24L202.75 263.66M202.75 261.24L203.23 263.66M208.57 261.24L208.08 263.66M209.05 261.24L208.57 263.66M205.17 255.42L203.72 255.9M206.14 255.42L207.6 255.9M203.72 265.12L205.17 265.6M207.6 265.12L206.14 265.6M203.72 255.9L202.75 257.36M207.6 255.9L208.57 257.36M202.75 263.66L203.72 265.12M208.57 263.66L207.6 265.12M202.26 259.78L202.26 261.24M202.75 259.78L202.75 261.24M208.57 259.78L208.57 261.24M209.05 259.78L209.05 261.24M203.72 256.39L203.23 257.36M207.6 256.39L208.08 257.36M203.23 263.66L203.72 264.63M208.08 263.66L207.6 264.63M205.17 255.42L206.14 255.42M205.17 265.6L206.14 265.6M205.17 255.42L204.2 255.9M204.2 265.12L205.17 265.6M207.11 255.9L207.6 256.39M207.6 264.63L207.11 265.12M204.2 255.9L203.72 256.39M203.72 264.63L204.2 265.12M206.14 255.42L207.11 255.9M207.11 265.12L206.14 265.6" stroke="#000" stroke-width="0.8" fill="none" stroke-linecap="round" stroke-linejoin="round"/>
<path d="M175.59 282.38L184.32 282.38M175.59 285.29L184.32 285.29M188.2 279.95L187.72 282.38M188.69 279.95L188.2 282.38M193.53 279.95L194.02 282.38M194.02 279.95L194.5 282.38M187.72 283.83L188.2 286.26M188.2 283.83L188.69 286.26M194.02 283.83L193.53 286.26M194.5 283.83L194.02 286.26M190.62 278.01L189.17 278.5M191.59 278.01L193.05 278.5M189.17 287.71L190.62 288.2M193.05 287.71L191.59 288.2M189.17 278.5L188.2 279.95M193.05 278.5L194.02 279.95M188.2 286.26L189.17 287.71M194.02 286.26L193.05 287.71M187.72 282.38L187.72 283.83M188.2 282.38L188.2 283.83M194.02 282.38L194.02 283.83M194.5 282.38L194.5 283.83M189.17 278.99L188.69 279.95M193.05 278.99L193.53 279.95M188.69 286.26L189.17 287.23M193.53 286.26L193.05 287.23M190.62 278.01L191.59 278.01M190.62 288.2L191.59 288.2M190.62 278.01L189.66 278.5M189.66 287.71L190.62 288.2M192.56 278.5L193.05 278.99M193.05 287.23L192.56 287.71M189.66 278.5L189.17 278.99M189.17 287.23L189.66 287.71M191.59 278.01L192.56 278.5M192.56 287.71L191.59 288.2M198.38 287.23L197.9 287.71M198.87 287.71L198.38 288.2M198.38 287.23L198.87 287.71M197.9 287.71L198.38 288.2M203.23 278.01L208.08 278.01M203.23 278.01L202.26 282.87M203.23 278.5L205.66 278.5M206.14 281.41L207.6 281.89M207.6 287.71L206.14 288.2M208.08 278.01L205.66 278.5M204.69 281.41L203.23 281.89M208.08 282.87L208.57 284.32M208.57 282.87L209.05 284.32M208.57 285.29L208.08 286.75M209.05 285.29L208.57 286.75M203.23 287.71L204.69 288.2M204.69 281.41L206.14 281.41M204.69 288.2L206.14 288.2M202.26 286.26L202.75 287.23M207.11 281.89L208.08 282.87M208.08 286.75L207.11 287.71M207.6 281.89L208.57 282.87M208.57 286.75L207.6 287.71M203.23 281.89L202.26 282.87M208.57 284.32L208.57 285.29M209.05 284.32L209.05 285.29M202.75 285.29L202.26 285.77M203.23 285.77L202.75 286.26M202.75 285.29L203.23 285.77M202.75 287.23L203.23 287.71M206.14 281.41L207.11 281.89M207.11 287.71L206.14 288.2M202.26 285.77L202.26 286.26" stroke="#000" stroke-width="0.8" fill="none" stroke-linecap="round" stroke-linejoin="round"/>
<path d="M171.34 305.38L180.07 305.38M171.34 308.29L180.07 308.29M183.95 302.95L183.47 305.38M184.44 302.95L183.95 305.38M189.28 302.95L189.77 305.38M189.77 302.95L190.25 305.38M183.47 306.83L183.95 309.26M183.95 306.83L184.44 309.26M189.77 306.83L189.28 309.26M190.25 306.83L189.77 309.26M186.38 301.01L184.92 301.5M187.34 301.01L188.8 301.5M184.92 310.71L186.38 311.2M188.8 310.71L187.34 311.2M184.92 301.5L183.95 302.95M188.8 301.5L189.77 302.95M183.95 309.26L184.92 310.71M189.77 309.26L188.8 310.71M183.47 305.38L183.47 306.83M183.95 305.38L183.95 306.83M189.77 305.38L189.77 306.83M190.25 305.38L190.25 306.83M184.92 301.99L184.44 302.95M188.8 301.99L189.28 302.95M184.44 309.26L184.92 310.23M189.28 309.26L188.8 310.23M186.38 301.01L187.34 301.01M186.38 311.2L187.34 311.2M186.38 301.01L185.41 301.5M185.41 310.71L186.38 311.2M188.31 301.5L188.8 301.99M188.8 310.23L188.31 310.71M185.41 301.5L184.92 301.99M184.92 310.23L185.41 310.71M187.34 301.01L188.31 301.5M188.31 310.71L187.34 311.2M194.13 310.23L193.65 310.71M194.62 310.71L194.13 311.2M194.13 310.23L194.62 310.71M193.65 310.71L194.13 311.2M198.5 302.95L198.01 305.38M198.98 302.95L198.5 305.38M203.83 302.95L204.32 305.38M204.32 302.95L204.8 305.38M198.01 306.83L198.5 309.26M198.5 306.83L198.98 309.26M204.32 306.83L203.83 309.26M204.8 306.83L204.32 309.26M200.92 301.01L199.47 301.5M201.89 301.01L203.35 301.5M199.47 310.71L200.92 311.2M203.35 310.71L201.89 311.2M199.47 301.5L198.5 302.95M203.35 301.5L204.32 302.95M198.5 309.26L199.47 310.71M204.32 309.26L203.35 310.71M198.01 305.38L198.01 306.83M198.5 305.38L198.5 306.83M204.32 305.38L204.32 306.83M204.8 305.38L204.8 306.83M199.47 301.99L198.98 302.95M203.35 301.99L203.83 302.95M198.98 309.26L199.47 310.23M203.83 309.26L203.35 310.23M200.92 301.01L201.89 301.01M200.92 311.2L201.89 311.2M200.92 301.01L199.95 301.5M199.95 310.71L200.92 311.2M202.86 301.5L203.35 301.99M203.35 310.23L202.86 310.71M199.95 301.5L199.47 301.99M199.47 310.23L199.95 310.71M201.89 301.01L202.86 301.5M202.86 310.71L201.89 311.2M208.68 301.01L213.53 301.01M208.68 301.01L207.71 305.87M208.68 301.5L211.11 301.5M211.59 304.41L213.05 304.89M213.05 310.71L211.59 311.2M213.53 301.01L211.11 301.5M210.14 304.41L208.68 304.89M213.53 305.87L214.02 307.32M214.02 305.87L214.5 307.32M214.02 308.29L213.53 309.75M214.5 308.29L214.02 309.75M208.68 310.71L210.14 311.2M210.14 304.41L211.59 304.41M210.14 311.2L211.59 311.2M207.71 309.26L208.2 310.23M212.56 304.89L213.53 305.87M213.53 309.75L212.56 310.71M213.05 304.89L214.02 305.87M214.02 309.75L213.05 310.71M208.68 304.89L207.71 305.87M214.02 307.32L214.02 308.29M214.5 307.32L214.5 308.29M208.2 308.29L207.71 308.77M208.68 308.77L208.2 309.26M208.2 308.29L208.68 308.77M208.2 310.23L208.68 310.71M211.59 304.41L212.56 304.89M212.56 310.71L211.59 311.2M207.71 308.77L207.71 309.26" stroke="#000" stroke-width="0.8" fill="none" stroke-linecap="round" stroke-linejoin="round"/>
<path transform="translate(326.4 580) skewX(0) scale(1.0)" d="M5.3 0C4.6 .6 4 1.6 3.8 2.5L5.8 3L7.6 2.8M3.8 2.5Q2.3 3.5 1.6 6Q1.6 8 4.3 8.5L6.3 8.3M4.3 8.5Q1.5 9.3 .3 11.2Q0 13 2.8 14.2L5 15Q6.2 15.8 5 17.2L3.6 17.5" stroke="#000" stroke-width="1.2" fill="none" stroke-linecap="round" stroke-linejoin="round"/>
<path transform="translate(166.7 254.9) skewX(-5) scale(0.78)" d="M5.3 0C4.6 .6 4 1.6 3.8 2.5L5.8 3L7.6 2.8M3.8 2.5Q2.3 3.5 1.6 6Q1.6 8 4.3 8.5L6.3 8.3M4.3 8.5Q1.5 9.3 .3 11.2Q0 13 2.8 14.2L5 15Q6.2 15.8 5 17.2L3.6 17.5" stroke="#000" stroke-width="1.28" fill="none" stroke-linecap="round" stroke-linejoin="round"/>
<path transform="translate(166.7 277.5) skewX(-5) scale(0.78)" d="M5.3 0C4.6 .6 4 1.6 3.8 2.5L5.8 3L7.6 2.8M3.8 2.5Q2.3 3.5 1.6 6Q1.6 8 4.3 8.5L6.3 8.3M4.3 8.5Q1.5 9.3 .3 11.2Q0 13 2.8 14.2L5 15Q6.2 15.8 5 17.2L3.6 17.5" stroke="#000" stroke-width="1.28" fill="none" stroke-linecap="round" stroke-linejoin="round"/>
<path transform="translate(162.5 300.5) skewX(-5) scale(0.78)" d="M5.3 0C4.6 .6 4 1.6 3.8 2.5L5.8 3L7.6 2.8M3.8 2.5Q2.3 3.5 1.6 6Q1.6 8 4.3 8.5L6.3 8.3M4.3 8.5Q1.5 9.3 .3 11.2Q0 13 2.8 14.2L5 15Q6.2 15.8 5 17.2L3.6 17.5" stroke="#000" stroke-width="1.28" fill="none" stroke-linecap="round" stroke-linejoin="round"/>
<path transform="translate(86 121)" d="M10 .6L4.5 .5C2.5 .7 .5 3.5 .3 6C.2 8 1.5 9.2 3 9.1C5.5 9 8 5.5 8.3 2.8C8.4 1.5 7.5 .6 6 .5" stroke="#000" stroke-width="1.15" fill="none" stroke-linecap="round"/>
</svg></body></html>
